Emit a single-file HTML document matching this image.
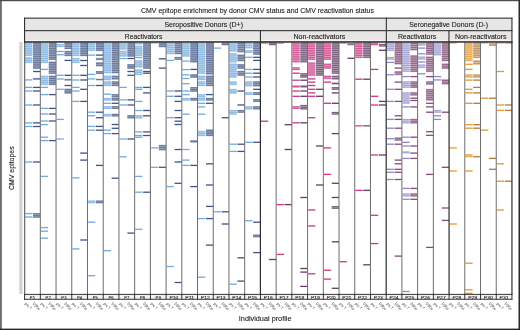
<!DOCTYPE html>
<html><head><meta charset="utf-8"><style>
html,body{margin:0;padding:0;background:#fff;}
body{width:520px;height:330px;overflow:hidden;font-family:"Liberation Sans",sans-serif;}
svg{display:block;font-family:"Liberation Sans",sans-serif;will-change:transform;}
</style></head><body>
<svg width="520" height="330" viewBox="0 0 520 330">
<rect width="520" height="330" fill="#fff"/>
<g fill="#b2d1ee"><rect x="25.15" y="42.3" width="7.25" height="13.9"/><rect x="25.15" y="57.1" width="7.25" height="6.1"/></g><g fill="#86b4df"><rect x="25.15" y="42.79" width="7.25" height="0.75"/><rect x="25.15" y="44.53" width="7.25" height="0.75"/><rect x="25.15" y="46.27" width="7.25" height="0.75"/><rect x="25.15" y="48.01" width="7.25" height="0.75"/><rect x="25.15" y="49.74" width="7.25" height="0.75"/><rect x="25.15" y="51.48" width="7.25" height="0.75"/><rect x="25.15" y="53.22" width="7.25" height="0.75"/><rect x="25.15" y="54.96" width="7.25" height="0.75"/><rect x="25.15" y="57.74" width="7.25" height="0.75"/><rect x="25.15" y="59.77" width="7.25" height="0.75"/><rect x="25.15" y="61.81" width="7.25" height="0.75"/></g><g fill="#74a9db"><rect x="25.15" y="79.25" width="7.25" height="1.3"/><rect x="25.15" y="86.75" width="7.25" height="1.3"/><rect x="25.15" y="90.35" width="7.25" height="1.3"/><rect x="25.15" y="104.35" width="7.25" height="1.3"/><rect x="25.15" y="122.25" width="7.25" height="1.3"/><rect x="25.15" y="125.85" width="7.25" height="1.3"/><rect x="25.15" y="161.35" width="7.25" height="1.3"/><rect x="25.15" y="212.95" width="7.25" height="1.3"/><rect x="25.15" y="216.35" width="7.25" height="1.3"/></g>
<g fill="#98a4bf"><rect x="33.05" y="42.3" width="7.25" height="26.6"/><rect x="33.05" y="213" width="7.25" height="4.8"/></g><g fill="#5c6e97"><rect x="33.05" y="42.88" width="7.25" height="0.75"/><rect x="33.05" y="44.77" width="7.25" height="0.75"/><rect x="33.05" y="46.67" width="7.25" height="0.75"/><rect x="33.05" y="48.58" width="7.25" height="0.75"/><rect x="33.05" y="50.48" width="7.25" height="0.75"/><rect x="33.05" y="52.38" width="7.25" height="0.75"/><rect x="33.05" y="54.27" width="7.25" height="0.75"/><rect x="33.05" y="56.17" width="7.25" height="0.75"/><rect x="33.05" y="58.08" width="7.25" height="0.75"/><rect x="33.05" y="59.98" width="7.25" height="0.75"/><rect x="33.05" y="61.88" width="7.25" height="0.75"/><rect x="33.05" y="63.78" width="7.25" height="0.75"/><rect x="33.05" y="65.68" width="7.25" height="0.75"/><rect x="33.05" y="67.58" width="7.25" height="0.75"/><rect x="33.05" y="213.43" width="7.25" height="0.75"/><rect x="33.05" y="215.02" width="7.25" height="0.75"/><rect x="33.05" y="216.62" width="7.25" height="0.75"/></g><g fill="#3f5586"><rect x="33.05" y="70.85" width="7.25" height="1.3"/><rect x="33.05" y="78.25" width="7.25" height="1.3"/><rect x="33.05" y="86.75" width="7.25" height="1.3"/><rect x="33.05" y="90.35" width="7.25" height="1.3"/><rect x="33.05" y="104.35" width="7.25" height="1.3"/><rect x="33.05" y="122.25" width="7.25" height="1.3"/><rect x="33.05" y="125.85" width="7.25" height="1.3"/><rect x="33.05" y="161.35" width="7.25" height="1.3"/></g>
<g fill="#b2d1ee"><rect x="40.87" y="42.3" width="7.25" height="20.9"/><rect x="40.87" y="75.5" width="7.25" height="9.7"/></g><g fill="#86b4df"><rect x="40.87" y="42.88" width="7.25" height="0.75"/><rect x="40.87" y="44.77" width="7.25" height="0.75"/><rect x="40.87" y="46.67" width="7.25" height="0.75"/><rect x="40.87" y="48.58" width="7.25" height="0.75"/><rect x="40.87" y="50.48" width="7.25" height="0.75"/><rect x="40.87" y="52.38" width="7.25" height="0.75"/><rect x="40.87" y="54.27" width="7.25" height="0.75"/><rect x="40.87" y="56.17" width="7.25" height="0.75"/><rect x="40.87" y="58.08" width="7.25" height="0.75"/><rect x="40.87" y="59.98" width="7.25" height="0.75"/><rect x="40.87" y="61.88" width="7.25" height="0.75"/><rect x="40.87" y="76.09" width="7.25" height="0.75"/><rect x="40.87" y="78.03" width="7.25" height="0.75"/><rect x="40.87" y="79.97" width="7.25" height="0.75"/><rect x="40.87" y="81.92" width="7.25" height="0.75"/><rect x="40.87" y="83.86" width="7.25" height="0.75"/></g><g fill="#74a9db"><rect x="40.87" y="68.75" width="7.25" height="1.3"/><rect x="40.87" y="86.75" width="7.25" height="1.3"/><rect x="40.87" y="93.95" width="7.25" height="1.3"/><rect x="40.87" y="107.75" width="7.25" height="1.3"/><rect x="40.87" y="113.35" width="7.25" height="1.3"/><rect x="40.87" y="120.35" width="7.25" height="1.3"/><rect x="40.87" y="123.95" width="7.25" height="1.3"/><rect x="40.87" y="136.55" width="7.25" height="1.3"/><rect x="40.87" y="139.95" width="7.25" height="1.3"/><rect x="40.87" y="175.75" width="7.25" height="1.3"/><rect x="40.87" y="226.95" width="7.25" height="1.3"/><rect x="40.87" y="230.55" width="7.25" height="1.3"/><rect x="40.87" y="237.55" width="7.25" height="1.3"/></g>
<g fill="#98a4bf"><rect x="48.77" y="42.3" width="7.25" height="17.7"/><rect x="48.77" y="61.5" width="7.25" height="12.5"/><rect x="48.77" y="75.5" width="7.25" height="9.7"/></g><g fill="#5c6e97"><rect x="48.77" y="42.81" width="7.25" height="0.75"/><rect x="48.77" y="44.58" width="7.25" height="0.75"/><rect x="48.77" y="46.35" width="7.25" height="0.75"/><rect x="48.77" y="48.12" width="7.25" height="0.75"/><rect x="48.77" y="49.89" width="7.25" height="0.75"/><rect x="48.77" y="51.66" width="7.25" height="0.75"/><rect x="48.77" y="53.43" width="7.25" height="0.75"/><rect x="48.77" y="55.2" width="7.25" height="0.75"/><rect x="48.77" y="56.97" width="7.25" height="0.75"/><rect x="48.77" y="58.74" width="7.25" height="0.75"/><rect x="48.77" y="62.02" width="7.25" height="0.75"/><rect x="48.77" y="63.8" width="7.25" height="0.75"/><rect x="48.77" y="65.59" width="7.25" height="0.75"/><rect x="48.77" y="67.38" width="7.25" height="0.75"/><rect x="48.77" y="69.16" width="7.25" height="0.75"/><rect x="48.77" y="70.95" width="7.25" height="0.75"/><rect x="48.77" y="72.73" width="7.25" height="0.75"/><rect x="48.77" y="76.09" width="7.25" height="0.75"/><rect x="48.77" y="78.03" width="7.25" height="0.75"/><rect x="48.77" y="79.97" width="7.25" height="0.75"/><rect x="48.77" y="81.92" width="7.25" height="0.75"/><rect x="48.77" y="83.86" width="7.25" height="0.75"/></g><g fill="#3f5586"><rect x="48.77" y="93.95" width="7.25" height="1.3"/><rect x="48.77" y="107.75" width="7.25" height="1.3"/><rect x="48.77" y="113.35" width="7.25" height="1.3"/><rect x="48.77" y="120.35" width="7.25" height="1.3"/><rect x="48.77" y="139.95" width="7.25" height="1.3"/></g>
<g fill="#b2d1ee"><rect x="56.59" y="43.8" width="7.25" height="3.4"/></g><g fill="#86b4df"><rect x="56.59" y="44.27" width="7.25" height="0.75"/><rect x="56.59" y="45.98" width="7.25" height="0.75"/></g><g fill="#74a9db"><rect x="56.59" y="50.85" width="7.25" height="1.3"/><rect x="56.59" y="54.05" width="7.25" height="1.3"/><rect x="56.59" y="74.65" width="7.25" height="1.3"/><rect x="56.59" y="78.35" width="7.25" height="1.3"/><rect x="56.59" y="88.65" width="7.25" height="1.3"/><rect x="56.59" y="118.75" width="7.25" height="1.3"/><rect x="56.59" y="138.35" width="7.25" height="1.3"/></g>
<g fill="#98a4bf"><rect x="64.49" y="42.3" width="7.25" height="6.9"/><rect x="64.49" y="50.8" width="7.25" height="5.4"/><rect x="64.49" y="78.8" width="7.25" height="1.9"/><rect x="64.49" y="88.6" width="7.25" height="5.1"/></g><g fill="#5c6e97"><rect x="64.49" y="42.79" width="7.25" height="0.75"/><rect x="64.49" y="44.51" width="7.25" height="0.75"/><rect x="64.49" y="46.24" width="7.25" height="0.75"/><rect x="64.49" y="47.96" width="7.25" height="0.75"/><rect x="64.49" y="51.32" width="7.25" height="0.75"/><rect x="64.49" y="53.12" width="7.25" height="0.75"/><rect x="64.49" y="54.93" width="7.25" height="0.75"/><rect x="64.49" y="79.38" width="7.25" height="0.75"/><rect x="64.49" y="89.07" width="7.25" height="0.75"/><rect x="64.49" y="90.78" width="7.25" height="0.75"/><rect x="64.49" y="92.47" width="7.25" height="0.75"/></g><g fill="#3f5586"><rect x="64.49" y="59.75" width="7.25" height="1.3"/><rect x="64.49" y="74.65" width="7.25" height="1.3"/><rect x="64.49" y="84.85" width="7.25" height="1.3"/></g>
<g fill="#b2d1ee"><rect x="72.31" y="42.3" width="7.25" height="13.9"/><rect x="72.31" y="57.8" width="7.25" height="5.4"/></g><g fill="#86b4df"><rect x="72.31" y="42.79" width="7.25" height="0.75"/><rect x="72.31" y="44.53" width="7.25" height="0.75"/><rect x="72.31" y="46.27" width="7.25" height="0.75"/><rect x="72.31" y="48.01" width="7.25" height="0.75"/><rect x="72.31" y="49.74" width="7.25" height="0.75"/><rect x="72.31" y="51.48" width="7.25" height="0.75"/><rect x="72.31" y="53.22" width="7.25" height="0.75"/><rect x="72.31" y="54.96" width="7.25" height="0.75"/><rect x="72.31" y="58.32" width="7.25" height="0.75"/><rect x="72.31" y="60.12" width="7.25" height="0.75"/><rect x="72.31" y="61.93" width="7.25" height="0.75"/></g><g fill="#74a9db"><rect x="72.31" y="74.65" width="7.25" height="1.3"/><rect x="72.31" y="79.35" width="7.25" height="1.3"/><rect x="72.31" y="86.75" width="7.25" height="1.3"/><rect x="72.31" y="90.35" width="7.25" height="1.3"/><rect x="72.31" y="100.75" width="7.25" height="1.3"/><rect x="72.31" y="177.25" width="7.25" height="1.3"/><rect x="72.31" y="248.25" width="7.25" height="1.3"/></g>
<g fill="#98a4bf"><rect x="80.21" y="42.3" width="7.25" height="13.9"/></g><g fill="#5c6e97"><rect x="80.21" y="42.79" width="7.25" height="0.75"/><rect x="80.21" y="44.53" width="7.25" height="0.75"/><rect x="80.21" y="46.27" width="7.25" height="0.75"/><rect x="80.21" y="48.01" width="7.25" height="0.75"/><rect x="80.21" y="49.74" width="7.25" height="0.75"/><rect x="80.21" y="51.48" width="7.25" height="0.75"/><rect x="80.21" y="53.22" width="7.25" height="0.75"/><rect x="80.21" y="54.96" width="7.25" height="0.75"/></g><g fill="#3f5586"><rect x="80.21" y="59.85" width="7.25" height="1.3"/><rect x="80.21" y="64.85" width="7.25" height="1.3"/><rect x="80.21" y="74.65" width="7.25" height="1.3"/><rect x="80.21" y="79.35" width="7.25" height="1.3"/><rect x="80.21" y="88.65" width="7.25" height="1.3"/><rect x="80.21" y="100.75" width="7.25" height="1.3"/><rect x="80.21" y="152.45" width="7.25" height="1.3"/><rect x="80.21" y="159.45" width="7.25" height="1.3"/><rect x="80.21" y="239.35" width="7.25" height="1.3"/></g>
<g fill="#b2d1ee"><rect x="88.03" y="42.3" width="7.25" height="8.8"/><rect x="88.03" y="200.4" width="7.25" height="3"/></g><g fill="#86b4df"><rect x="88.03" y="42.8" width="7.25" height="0.75"/><rect x="88.03" y="44.56" width="7.25" height="0.75"/><rect x="88.03" y="46.33" width="7.25" height="0.75"/><rect x="88.03" y="48.09" width="7.25" height="0.75"/><rect x="88.03" y="49.84" width="7.25" height="0.75"/><rect x="88.03" y="200.78" width="7.25" height="0.75"/><rect x="88.03" y="202.27" width="7.25" height="0.75"/></g><g fill="#74a9db"><rect x="88.03" y="54.45" width="7.25" height="1.3"/><rect x="88.03" y="73.75" width="7.25" height="1.3"/><rect x="88.03" y="78.25" width="7.25" height="1.3"/><rect x="88.03" y="84.85" width="7.25" height="1.3"/><rect x="88.03" y="111.55" width="7.25" height="1.3"/><rect x="88.03" y="115.15" width="7.25" height="1.3"/><rect x="88.03" y="125.75" width="7.25" height="1.3"/><rect x="88.03" y="129.55" width="7.25" height="1.3"/><rect x="88.03" y="221.55" width="7.25" height="1.3"/><rect x="88.03" y="275.05" width="7.25" height="1.3"/></g>
<g fill="#98a4bf"><rect x="95.93" y="42.3" width="7.25" height="8.8"/><rect x="95.93" y="57.8" width="7.25" height="2.4"/><rect x="95.93" y="62.2" width="7.25" height="4.2"/><rect x="95.93" y="71.1" width="7.25" height="2.9"/><rect x="95.93" y="78.7" width="7.25" height="1.7"/><rect x="95.93" y="200.4" width="7.25" height="3"/></g><g fill="#5c6e97"><rect x="95.93" y="42.8" width="7.25" height="0.75"/><rect x="95.93" y="44.56" width="7.25" height="0.75"/><rect x="95.93" y="46.33" width="7.25" height="0.75"/><rect x="95.93" y="48.09" width="7.25" height="0.75"/><rect x="95.93" y="49.84" width="7.25" height="0.75"/><rect x="95.93" y="58.62" width="7.25" height="0.75"/><rect x="95.93" y="62.88" width="7.25" height="0.75"/><rect x="95.93" y="64.98" width="7.25" height="0.75"/><rect x="95.93" y="71.45" width="7.25" height="0.75"/><rect x="95.93" y="72.9" width="7.25" height="0.75"/><rect x="95.93" y="79.18" width="7.25" height="0.75"/><rect x="95.93" y="200.78" width="7.25" height="0.75"/><rect x="95.93" y="202.27" width="7.25" height="0.75"/></g><g fill="#3f5586"><rect x="95.93" y="54.45" width="7.25" height="1.3"/><rect x="95.93" y="84.85" width="7.25" height="1.3"/><rect x="95.93" y="111.55" width="7.25" height="1.3"/><rect x="95.93" y="117.05" width="7.25" height="1.3"/><rect x="95.93" y="125.75" width="7.25" height="1.3"/><rect x="95.93" y="129.55" width="7.25" height="1.3"/><rect x="95.93" y="164.75" width="7.25" height="1.3"/></g>
<g fill="#b2d1ee"><rect x="103.76" y="42.3" width="7.25" height="31.1"/><rect x="103.76" y="75.5" width="7.25" height="4.9"/><rect x="103.76" y="81.2" width="7.25" height="5"/><rect x="103.76" y="97.8" width="7.25" height="2.9"/><rect x="103.76" y="106.1" width="7.25" height="2.9"/><rect x="103.76" y="113.7" width="7.25" height="2.9"/></g><g fill="#86b4df"><rect x="103.76" y="42.84" width="7.25" height="0.75"/><rect x="103.76" y="44.67" width="7.25" height="0.75"/><rect x="103.76" y="46.5" width="7.25" height="0.75"/><rect x="103.76" y="48.33" width="7.25" height="0.75"/><rect x="103.76" y="50.16" width="7.25" height="0.75"/><rect x="103.76" y="51.99" width="7.25" height="0.75"/><rect x="103.76" y="53.82" width="7.25" height="0.75"/><rect x="103.76" y="55.65" width="7.25" height="0.75"/><rect x="103.76" y="57.48" width="7.25" height="0.75"/><rect x="103.76" y="59.3" width="7.25" height="0.75"/><rect x="103.76" y="61.13" width="7.25" height="0.75"/><rect x="103.76" y="62.96" width="7.25" height="0.75"/><rect x="103.76" y="64.79" width="7.25" height="0.75"/><rect x="103.76" y="66.62" width="7.25" height="0.75"/><rect x="103.76" y="68.45" width="7.25" height="0.75"/><rect x="103.76" y="70.28" width="7.25" height="0.75"/><rect x="103.76" y="72.11" width="7.25" height="0.75"/><rect x="103.76" y="75.94" width="7.25" height="0.75"/><rect x="103.76" y="77.58" width="7.25" height="0.75"/><rect x="103.76" y="79.21" width="7.25" height="0.75"/><rect x="103.76" y="81.66" width="7.25" height="0.75"/><rect x="103.76" y="83.33" width="7.25" height="0.75"/><rect x="103.76" y="84.99" width="7.25" height="0.75"/><rect x="103.76" y="98.15" width="7.25" height="0.75"/><rect x="103.76" y="99.6" width="7.25" height="0.75"/><rect x="103.76" y="106.45" width="7.25" height="0.75"/><rect x="103.76" y="107.9" width="7.25" height="0.75"/><rect x="103.76" y="114.05" width="7.25" height="0.75"/><rect x="103.76" y="115.5" width="7.25" height="0.75"/></g><g fill="#74a9db"><rect x="103.76" y="93.55" width="7.25" height="1.3"/><rect x="103.76" y="102.65" width="7.25" height="1.3"/><rect x="103.76" y="129.55" width="7.25" height="1.3"/><rect x="103.76" y="132.95" width="7.25" height="1.3"/><rect x="103.76" y="250.05" width="7.25" height="1.3"/></g>
<g fill="#98a4bf"><rect x="111.66" y="42.3" width="7.25" height="31.1"/><rect x="111.66" y="75.5" width="7.25" height="4.2"/><rect x="111.66" y="81.2" width="7.25" height="5"/><rect x="111.66" y="94" width="7.25" height="3.6"/><rect x="111.66" y="97.8" width="7.25" height="2.9"/><rect x="111.66" y="106.1" width="7.25" height="2.9"/><rect x="111.66" y="113.7" width="7.25" height="2.9"/></g><g fill="#5c6e97"><rect x="111.66" y="42.84" width="7.25" height="0.75"/><rect x="111.66" y="44.67" width="7.25" height="0.75"/><rect x="111.66" y="46.5" width="7.25" height="0.75"/><rect x="111.66" y="48.33" width="7.25" height="0.75"/><rect x="111.66" y="50.16" width="7.25" height="0.75"/><rect x="111.66" y="51.99" width="7.25" height="0.75"/><rect x="111.66" y="53.82" width="7.25" height="0.75"/><rect x="111.66" y="55.65" width="7.25" height="0.75"/><rect x="111.66" y="57.48" width="7.25" height="0.75"/><rect x="111.66" y="59.3" width="7.25" height="0.75"/><rect x="111.66" y="61.13" width="7.25" height="0.75"/><rect x="111.66" y="62.96" width="7.25" height="0.75"/><rect x="111.66" y="64.79" width="7.25" height="0.75"/><rect x="111.66" y="66.62" width="7.25" height="0.75"/><rect x="111.66" y="68.45" width="7.25" height="0.75"/><rect x="111.66" y="70.28" width="7.25" height="0.75"/><rect x="111.66" y="72.11" width="7.25" height="0.75"/><rect x="111.66" y="76.17" width="7.25" height="0.75"/><rect x="111.66" y="78.28" width="7.25" height="0.75"/><rect x="111.66" y="81.66" width="7.25" height="0.75"/><rect x="111.66" y="83.33" width="7.25" height="0.75"/><rect x="111.66" y="84.99" width="7.25" height="0.75"/><rect x="111.66" y="94.53" width="7.25" height="0.75"/><rect x="111.66" y="96.33" width="7.25" height="0.75"/><rect x="111.66" y="98.15" width="7.25" height="0.75"/><rect x="111.66" y="99.6" width="7.25" height="0.75"/><rect x="111.66" y="106.45" width="7.25" height="0.75"/><rect x="111.66" y="107.9" width="7.25" height="0.75"/><rect x="111.66" y="114.05" width="7.25" height="0.75"/><rect x="111.66" y="115.5" width="7.25" height="0.75"/></g><g fill="#3f5586"><rect x="111.66" y="102.65" width="7.25" height="1.3"/><rect x="111.66" y="123.85" width="7.25" height="1.3"/><rect x="111.66" y="127.65" width="7.25" height="1.3"/><rect x="111.66" y="132.95" width="7.25" height="1.3"/><rect x="111.66" y="177.55" width="7.25" height="1.3"/></g>
<g fill="#b2d1ee"><rect x="119.48" y="42.3" width="7.25" height="7.5"/><rect x="119.48" y="50.7" width="7.25" height="6.1"/></g><g fill="#86b4df"><rect x="119.48" y="42.86" width="7.25" height="0.75"/><rect x="119.48" y="44.74" width="7.25" height="0.75"/><rect x="119.48" y="46.61" width="7.25" height="0.75"/><rect x="119.48" y="48.49" width="7.25" height="0.75"/><rect x="119.48" y="51.34" width="7.25" height="0.75"/><rect x="119.48" y="53.38" width="7.25" height="0.75"/><rect x="119.48" y="55.41" width="7.25" height="0.75"/></g><g fill="#74a9db"><rect x="119.48" y="57.85" width="7.25" height="1.3"/><rect x="119.48" y="86.75" width="7.25" height="1.3"/><rect x="119.48" y="99.25" width="7.25" height="1.3"/><rect x="119.48" y="104.35" width="7.25" height="1.3"/><rect x="119.48" y="138.35" width="7.25" height="1.3"/><rect x="119.48" y="156.15" width="7.25" height="1.3"/></g>
<g fill="#98a4bf"><rect x="127.38" y="42.3" width="7.25" height="14.5"/><rect x="127.38" y="64.1" width="7.25" height="4.8"/><rect x="127.38" y="115" width="7.25" height="3.6"/></g><g fill="#5c6e97"><rect x="127.38" y="42.83" width="7.25" height="0.75"/><rect x="127.38" y="44.64" width="7.25" height="0.75"/><rect x="127.38" y="46.46" width="7.25" height="0.75"/><rect x="127.38" y="48.27" width="7.25" height="0.75"/><rect x="127.38" y="50.08" width="7.25" height="0.75"/><rect x="127.38" y="51.89" width="7.25" height="0.75"/><rect x="127.38" y="53.71" width="7.25" height="0.75"/><rect x="127.38" y="55.52" width="7.25" height="0.75"/><rect x="127.38" y="64.52" width="7.25" height="0.75"/><rect x="127.38" y="66.12" width="7.25" height="0.75"/><rect x="127.38" y="67.73" width="7.25" height="0.75"/><rect x="127.38" y="115.53" width="7.25" height="0.75"/><rect x="127.38" y="117.33" width="7.25" height="0.75"/></g><g fill="#3f5586"><rect x="127.38" y="57.85" width="7.25" height="1.3"/><rect x="127.38" y="70.85" width="7.25" height="1.3"/><rect x="127.38" y="74.65" width="7.25" height="1.3"/><rect x="127.38" y="99.25" width="7.25" height="1.3"/><rect x="127.38" y="104.35" width="7.25" height="1.3"/><rect x="127.38" y="138.35" width="7.25" height="1.3"/><rect x="127.38" y="232.45" width="7.25" height="1.3"/></g>
<g fill="#b2d1ee"><rect x="135.2" y="42.3" width="7.25" height="2.4"/><rect x="135.2" y="45.6" width="7.25" height="10.6"/><rect x="135.2" y="60.2" width="7.25" height="7.4"/><rect x="135.2" y="69.2" width="7.25" height="6"/><rect x="135.2" y="115" width="7.25" height="3.6"/></g><g fill="#86b4df"><rect x="135.2" y="43.12" width="7.25" height="0.75"/><rect x="135.2" y="46.11" width="7.25" height="0.75"/><rect x="135.2" y="47.88" width="7.25" height="0.75"/><rect x="135.2" y="49.64" width="7.25" height="0.75"/><rect x="135.2" y="51.41" width="7.25" height="0.75"/><rect x="135.2" y="53.17" width="7.25" height="0.75"/><rect x="135.2" y="54.94" width="7.25" height="0.75"/><rect x="135.2" y="60.75" width="7.25" height="0.75"/><rect x="135.2" y="62.6" width="7.25" height="0.75"/><rect x="135.2" y="64.45" width="7.25" height="0.75"/><rect x="135.2" y="66.3" width="7.25" height="0.75"/><rect x="135.2" y="69.83" width="7.25" height="0.75"/><rect x="135.2" y="71.83" width="7.25" height="0.75"/><rect x="135.2" y="73.83" width="7.25" height="0.75"/><rect x="135.2" y="115.53" width="7.25" height="0.75"/><rect x="135.2" y="117.33" width="7.25" height="0.75"/></g><g fill="#74a9db"><rect x="135.2" y="56.85" width="7.25" height="1.3"/><rect x="135.2" y="86.75" width="7.25" height="1.3"/><rect x="135.2" y="88.65" width="7.25" height="1.3"/><rect x="135.2" y="100.75" width="7.25" height="1.3"/><rect x="135.2" y="109.85" width="7.25" height="1.3"/><rect x="135.2" y="131.25" width="7.25" height="1.3"/><rect x="135.2" y="134.85" width="7.25" height="1.3"/><rect x="135.2" y="136.55" width="7.25" height="1.3"/><rect x="135.2" y="175.75" width="7.25" height="1.3"/><rect x="135.2" y="191.55" width="7.25" height="1.3"/><rect x="135.2" y="228.65" width="7.25" height="1.3"/></g>
<g fill="#98a4bf"><rect x="143.1" y="42.3" width="7.25" height="26.6"/></g><g fill="#5c6e97"><rect x="143.1" y="42.88" width="7.25" height="0.75"/><rect x="143.1" y="44.77" width="7.25" height="0.75"/><rect x="143.1" y="46.67" width="7.25" height="0.75"/><rect x="143.1" y="48.58" width="7.25" height="0.75"/><rect x="143.1" y="50.48" width="7.25" height="0.75"/><rect x="143.1" y="52.38" width="7.25" height="0.75"/><rect x="143.1" y="54.27" width="7.25" height="0.75"/><rect x="143.1" y="56.17" width="7.25" height="0.75"/><rect x="143.1" y="58.08" width="7.25" height="0.75"/><rect x="143.1" y="59.98" width="7.25" height="0.75"/><rect x="143.1" y="61.88" width="7.25" height="0.75"/><rect x="143.1" y="63.78" width="7.25" height="0.75"/><rect x="143.1" y="65.68" width="7.25" height="0.75"/><rect x="143.1" y="67.58" width="7.25" height="0.75"/></g><g fill="#3f5586"><rect x="143.1" y="70.85" width="7.25" height="1.3"/><rect x="143.1" y="72.55" width="7.25" height="1.3"/><rect x="143.1" y="86.75" width="7.25" height="1.3"/><rect x="143.1" y="92.25" width="7.25" height="1.3"/><rect x="143.1" y="109.85" width="7.25" height="1.3"/><rect x="143.1" y="115.15" width="7.25" height="1.3"/><rect x="143.1" y="131.25" width="7.25" height="1.3"/><rect x="143.1" y="134.85" width="7.25" height="1.3"/><rect x="143.1" y="191.55" width="7.25" height="1.3"/></g>
<g fill="#74a9db"><rect x="150.92" y="42.5" width="7.25" height="1"/><rect x="150.92" y="147.25" width="7.25" height="1.3"/><rect x="150.92" y="166.65" width="7.25" height="1.3"/></g>
<g fill="#98a4bf"><rect x="158.82" y="42.3" width="7.25" height="5"/><rect x="158.82" y="144.8" width="7.25" height="5.6"/></g><g fill="#5c6e97"><rect x="158.82" y="42.76" width="7.25" height="0.75"/><rect x="158.82" y="44.42" width="7.25" height="0.75"/><rect x="158.82" y="46.09" width="7.25" height="0.75"/><rect x="158.82" y="145.36" width="7.25" height="0.75"/><rect x="158.82" y="147.22" width="7.25" height="0.75"/><rect x="158.82" y="149.09" width="7.25" height="0.75"/></g><g fill="#3f5586"><rect x="158.82" y="58.15" width="7.25" height="1.3"/><rect x="158.82" y="67.45" width="7.25" height="1.3"/><rect x="158.82" y="166.65" width="7.25" height="1.3"/></g>
<g fill="#b2d1ee"><rect x="166.64" y="42.3" width="7.25" height="12"/></g><g fill="#86b4df"><rect x="166.64" y="42.92" width="7.25" height="0.75"/><rect x="166.64" y="44.92" width="7.25" height="0.75"/><rect x="166.64" y="46.92" width="7.25" height="0.75"/><rect x="166.64" y="48.93" width="7.25" height="0.75"/><rect x="166.64" y="50.93" width="7.25" height="0.75"/><rect x="166.64" y="52.93" width="7.25" height="0.75"/></g><g fill="#74a9db"><rect x="166.64" y="59.75" width="7.25" height="1.3"/><rect x="166.64" y="90.35" width="7.25" height="1.3"/><rect x="166.64" y="95.65" width="7.25" height="1.3"/><rect x="166.64" y="117.05" width="7.25" height="1.3"/><rect x="166.64" y="185.95" width="7.25" height="1.3"/><rect x="166.64" y="265.85" width="7.25" height="1.3"/></g>
<g fill="#98a4bf"><rect x="174.54" y="42.3" width="7.25" height="12"/><rect x="174.54" y="56.8" width="7.25" height="3.2"/></g><g fill="#5c6e97"><rect x="174.54" y="42.92" width="7.25" height="0.75"/><rect x="174.54" y="44.92" width="7.25" height="0.75"/><rect x="174.54" y="46.92" width="7.25" height="0.75"/><rect x="174.54" y="48.93" width="7.25" height="0.75"/><rect x="174.54" y="50.93" width="7.25" height="0.75"/><rect x="174.54" y="52.93" width="7.25" height="0.75"/><rect x="174.54" y="57.22" width="7.25" height="0.75"/><rect x="174.54" y="58.83" width="7.25" height="0.75"/></g><g fill="#3f5586"><rect x="174.54" y="90.35" width="7.25" height="1.3"/><rect x="174.54" y="95.65" width="7.25" height="1.3"/><rect x="174.54" y="100.75" width="7.25" height="1.3"/><rect x="174.54" y="109.85" width="7.25" height="1.3"/><rect x="174.54" y="117.05" width="7.25" height="1.3"/><rect x="174.54" y="120.55" width="7.25" height="1.3"/><rect x="174.54" y="123.85" width="7.25" height="1.3"/><rect x="174.54" y="148.85" width="7.25" height="1.3"/><rect x="174.54" y="161.35" width="7.25" height="1.3"/><rect x="174.54" y="182.65" width="7.25" height="1.3"/><rect x="174.54" y="281.85" width="7.25" height="1.3"/></g>
<g fill="#b2d1ee"><rect x="182.36" y="42.3" width="7.25" height="14.5"/><rect x="182.36" y="60.2" width="7.25" height="1.8"/><rect x="182.36" y="97.8" width="7.25" height="2.9"/></g><g fill="#86b4df"><rect x="182.36" y="42.83" width="7.25" height="0.75"/><rect x="182.36" y="44.64" width="7.25" height="0.75"/><rect x="182.36" y="46.46" width="7.25" height="0.75"/><rect x="182.36" y="48.27" width="7.25" height="0.75"/><rect x="182.36" y="50.08" width="7.25" height="0.75"/><rect x="182.36" y="51.89" width="7.25" height="0.75"/><rect x="182.36" y="53.71" width="7.25" height="0.75"/><rect x="182.36" y="55.52" width="7.25" height="0.75"/><rect x="182.36" y="60.72" width="7.25" height="0.75"/><rect x="182.36" y="98.15" width="7.25" height="0.75"/><rect x="182.36" y="99.6" width="7.25" height="0.75"/></g><g fill="#74a9db"><rect x="182.36" y="68.95" width="7.25" height="1.3"/><rect x="182.36" y="74.15" width="7.25" height="1.3"/><rect x="182.36" y="77.85" width="7.25" height="1.3"/><rect x="182.36" y="83.05" width="7.25" height="1.3"/><rect x="182.36" y="90.35" width="7.25" height="1.3"/><rect x="182.36" y="93.95" width="7.25" height="1.3"/><rect x="182.36" y="113.55" width="7.25" height="1.3"/><rect x="182.36" y="148.85" width="7.25" height="1.3"/><rect x="182.36" y="159.45" width="7.25" height="1.3"/><rect x="182.36" y="164.75" width="7.25" height="1.3"/></g>
<g fill="#98a4bf"><rect x="190.26" y="42.3" width="7.25" height="20.3"/><rect x="190.26" y="74.2" width="7.25" height="3.6"/><rect x="190.26" y="87" width="7.25" height="4.8"/><rect x="190.26" y="97.8" width="7.25" height="2.9"/><rect x="190.26" y="140" width="7.25" height="2.7"/></g><g fill="#5c6e97"><rect x="190.26" y="42.85" width="7.25" height="0.75"/><rect x="190.26" y="44.69" width="7.25" height="0.75"/><rect x="190.26" y="46.54" width="7.25" height="0.75"/><rect x="190.26" y="48.38" width="7.25" height="0.75"/><rect x="190.26" y="50.23" width="7.25" height="0.75"/><rect x="190.26" y="52.08" width="7.25" height="0.75"/><rect x="190.26" y="53.92" width="7.25" height="0.75"/><rect x="190.26" y="55.77" width="7.25" height="0.75"/><rect x="190.26" y="57.61" width="7.25" height="0.75"/><rect x="190.26" y="59.46" width="7.25" height="0.75"/><rect x="190.26" y="61.3" width="7.25" height="0.75"/><rect x="190.26" y="74.72" width="7.25" height="0.75"/><rect x="190.26" y="76.53" width="7.25" height="0.75"/><rect x="190.26" y="87.42" width="7.25" height="0.75"/><rect x="190.26" y="89.03" width="7.25" height="0.75"/><rect x="190.26" y="90.62" width="7.25" height="0.75"/><rect x="190.26" y="98.15" width="7.25" height="0.75"/><rect x="190.26" y="99.6" width="7.25" height="0.75"/><rect x="190.26" y="140.97" width="7.25" height="0.75"/></g><g fill="#3f5586"><rect x="190.26" y="68.75" width="7.25" height="1.3"/><rect x="190.26" y="164.75" width="7.25" height="1.3"/><rect x="190.26" y="185.95" width="7.25" height="1.3"/></g>
<g fill="#b2d1ee"><rect x="198.08" y="42.3" width="7.25" height="31.7"/><rect x="198.08" y="75.5" width="7.25" height="4.9"/><rect x="198.08" y="81.2" width="7.25" height="5"/><rect x="198.08" y="94" width="7.25" height="3.6"/><rect x="198.08" y="97.8" width="7.25" height="2.9"/><rect x="198.08" y="130.8" width="7.25" height="5.4"/></g><g fill="#86b4df"><rect x="198.08" y="42.86" width="7.25" height="0.75"/><rect x="198.08" y="44.72" width="7.25" height="0.75"/><rect x="198.08" y="46.59" width="7.25" height="0.75"/><rect x="198.08" y="48.45" width="7.25" height="0.75"/><rect x="198.08" y="50.32" width="7.25" height="0.75"/><rect x="198.08" y="52.18" width="7.25" height="0.75"/><rect x="198.08" y="54.05" width="7.25" height="0.75"/><rect x="198.08" y="55.91" width="7.25" height="0.75"/><rect x="198.08" y="57.77" width="7.25" height="0.75"/><rect x="198.08" y="59.64" width="7.25" height="0.75"/><rect x="198.08" y="61.5" width="7.25" height="0.75"/><rect x="198.08" y="63.37" width="7.25" height="0.75"/><rect x="198.08" y="65.23" width="7.25" height="0.75"/><rect x="198.08" y="67.1" width="7.25" height="0.75"/><rect x="198.08" y="68.96" width="7.25" height="0.75"/><rect x="198.08" y="70.83" width="7.25" height="0.75"/><rect x="198.08" y="72.69" width="7.25" height="0.75"/><rect x="198.08" y="75.94" width="7.25" height="0.75"/><rect x="198.08" y="77.58" width="7.25" height="0.75"/><rect x="198.08" y="79.21" width="7.25" height="0.75"/><rect x="198.08" y="81.66" width="7.25" height="0.75"/><rect x="198.08" y="83.33" width="7.25" height="0.75"/><rect x="198.08" y="84.99" width="7.25" height="0.75"/><rect x="198.08" y="94.53" width="7.25" height="0.75"/><rect x="198.08" y="96.33" width="7.25" height="0.75"/><rect x="198.08" y="98.15" width="7.25" height="0.75"/><rect x="198.08" y="99.6" width="7.25" height="0.75"/><rect x="198.08" y="131.33" width="7.25" height="0.75"/><rect x="198.08" y="133.12" width="7.25" height="0.75"/><rect x="198.08" y="134.92" width="7.25" height="0.75"/></g><g fill="#74a9db"><rect x="198.08" y="102.65" width="7.25" height="1.3"/><rect x="198.08" y="106.25" width="7.25" height="1.3"/><rect x="198.08" y="113.55" width="7.25" height="1.3"/><rect x="198.08" y="217.95" width="7.25" height="1.3"/><rect x="198.08" y="276.55" width="7.25" height="1.3"/></g>
<g fill="#98a4bf"><rect x="205.98" y="42.3" width="7.25" height="32.3"/><rect x="205.98" y="75.5" width="7.25" height="10.7"/><rect x="205.98" y="97.8" width="7.25" height="2.9"/><rect x="205.98" y="129.4" width="7.25" height="6.8"/></g><g fill="#5c6e97"><rect x="205.98" y="42.88" width="7.25" height="0.75"/><rect x="205.98" y="44.77" width="7.25" height="0.75"/><rect x="205.98" y="46.67" width="7.25" height="0.75"/><rect x="205.98" y="48.58" width="7.25" height="0.75"/><rect x="205.98" y="50.48" width="7.25" height="0.75"/><rect x="205.98" y="52.38" width="7.25" height="0.75"/><rect x="205.98" y="54.27" width="7.25" height="0.75"/><rect x="205.98" y="56.17" width="7.25" height="0.75"/><rect x="205.98" y="58.08" width="7.25" height="0.75"/><rect x="205.98" y="59.98" width="7.25" height="0.75"/><rect x="205.98" y="61.88" width="7.25" height="0.75"/><rect x="205.98" y="63.78" width="7.25" height="0.75"/><rect x="205.98" y="65.68" width="7.25" height="0.75"/><rect x="205.98" y="67.58" width="7.25" height="0.75"/><rect x="205.98" y="69.48" width="7.25" height="0.75"/><rect x="205.98" y="71.38" width="7.25" height="0.75"/><rect x="205.98" y="73.28" width="7.25" height="0.75"/><rect x="205.98" y="76.02" width="7.25" height="0.75"/><rect x="205.98" y="77.8" width="7.25" height="0.75"/><rect x="205.98" y="79.58" width="7.25" height="0.75"/><rect x="205.98" y="81.37" width="7.25" height="0.75"/><rect x="205.98" y="83.15" width="7.25" height="0.75"/><rect x="205.98" y="84.93" width="7.25" height="0.75"/><rect x="205.98" y="98.15" width="7.25" height="0.75"/><rect x="205.98" y="99.6" width="7.25" height="0.75"/><rect x="205.98" y="129.88" width="7.25" height="0.75"/><rect x="205.98" y="131.57" width="7.25" height="0.75"/><rect x="205.98" y="133.28" width="7.25" height="0.75"/><rect x="205.98" y="134.97" width="7.25" height="0.75"/></g><g fill="#3f5586"><rect x="205.98" y="93.95" width="7.25" height="1.3"/><rect x="205.98" y="102.65" width="7.25" height="1.3"/><rect x="205.98" y="163.15" width="7.25" height="1.3"/><rect x="205.98" y="184.35" width="7.25" height="1.3"/><rect x="205.98" y="205.75" width="7.25" height="1.3"/><rect x="205.98" y="217.95" width="7.25" height="1.3"/><rect x="205.98" y="244.45" width="7.25" height="1.3"/></g>
<g fill="#74a9db"><rect x="213.8" y="47.45" width="7.25" height="1.3"/><rect x="213.8" y="211.15" width="7.25" height="1.3"/></g>
<g fill="#98a4bf"><rect x="221.7" y="42.3" width="7.25" height="3.1"/></g><g fill="#5c6e97"><rect x="221.7" y="42.7" width="7.25" height="0.75"/><rect x="221.7" y="44.25" width="7.25" height="0.75"/></g><g fill="#3f5586"><rect x="221.7" y="117.05" width="7.25" height="1.3"/><rect x="221.7" y="211.15" width="7.25" height="1.3"/><rect x="221.7" y="223.35" width="7.25" height="1.3"/></g>
<g fill="#b2d1ee"><rect x="229.52" y="42.3" width="7.25" height="9.4"/><rect x="229.52" y="53" width="7.25" height="9.6"/><rect x="229.52" y="63.4" width="7.25" height="14.4"/><rect x="229.52" y="81.2" width="7.25" height="4"/><rect x="229.52" y="88.8" width="7.25" height="4.9"/><rect x="229.52" y="109.9" width="7.25" height="4.8"/></g><g fill="#86b4df"><rect x="229.52" y="42.86" width="7.25" height="0.75"/><rect x="229.52" y="44.74" width="7.25" height="0.75"/><rect x="229.52" y="46.62" width="7.25" height="0.75"/><rect x="229.52" y="48.51" width="7.25" height="0.75"/><rect x="229.52" y="50.39" width="7.25" height="0.75"/><rect x="229.52" y="53.59" width="7.25" height="0.75"/><rect x="229.52" y="55.51" width="7.25" height="0.75"/><rect x="229.52" y="57.42" width="7.25" height="0.75"/><rect x="229.52" y="59.34" width="7.25" height="0.75"/><rect x="229.52" y="61.27" width="7.25" height="0.75"/><rect x="229.52" y="63.92" width="7.25" height="0.75"/><rect x="229.52" y="65.72" width="7.25" height="0.75"/><rect x="229.52" y="67.53" width="7.25" height="0.75"/><rect x="229.52" y="69.33" width="7.25" height="0.75"/><rect x="229.52" y="71.12" width="7.25" height="0.75"/><rect x="229.52" y="72.92" width="7.25" height="0.75"/><rect x="229.52" y="74.72" width="7.25" height="0.75"/><rect x="229.52" y="76.52" width="7.25" height="0.75"/><rect x="229.52" y="81.83" width="7.25" height="0.75"/><rect x="229.52" y="83.83" width="7.25" height="0.75"/><rect x="229.52" y="89.24" width="7.25" height="0.75"/><rect x="229.52" y="90.88" width="7.25" height="0.75"/><rect x="229.52" y="92.51" width="7.25" height="0.75"/><rect x="229.52" y="110.32" width="7.25" height="0.75"/><rect x="229.52" y="111.92" width="7.25" height="0.75"/><rect x="229.52" y="113.53" width="7.25" height="0.75"/></g><g fill="#74a9db"><rect x="229.52" y="143.55" width="7.25" height="1.3"/><rect x="229.52" y="150.75" width="7.25" height="1.3"/><rect x="229.52" y="283.55" width="7.25" height="1.3"/></g>
<g fill="#98a4bf"><rect x="237.42" y="42.3" width="7.25" height="10.1"/><rect x="237.42" y="54.5" width="7.25" height="6.8"/><rect x="237.42" y="64.1" width="7.25" height="4.8"/><rect x="237.42" y="70.8" width="7.25" height="5.1"/><rect x="237.42" y="109.9" width="7.25" height="2.9"/></g><g fill="#5c6e97"><rect x="237.42" y="42.93" width="7.25" height="0.75"/><rect x="237.42" y="44.95" width="7.25" height="0.75"/><rect x="237.42" y="46.98" width="7.25" height="0.75"/><rect x="237.42" y="49" width="7.25" height="0.75"/><rect x="237.42" y="51.02" width="7.25" height="0.75"/><rect x="237.42" y="54.98" width="7.25" height="0.75"/><rect x="237.42" y="56.68" width="7.25" height="0.75"/><rect x="237.42" y="58.38" width="7.25" height="0.75"/><rect x="237.42" y="60.08" width="7.25" height="0.75"/><rect x="237.42" y="64.52" width="7.25" height="0.75"/><rect x="237.42" y="66.12" width="7.25" height="0.75"/><rect x="237.42" y="67.73" width="7.25" height="0.75"/><rect x="237.42" y="71.28" width="7.25" height="0.75"/><rect x="237.42" y="72.97" width="7.25" height="0.75"/><rect x="237.42" y="74.68" width="7.25" height="0.75"/><rect x="237.42" y="110.25" width="7.25" height="0.75"/><rect x="237.42" y="111.7" width="7.25" height="0.75"/></g><g fill="#3f5586"><rect x="237.42" y="90.35" width="7.25" height="1.3"/><rect x="237.42" y="104.35" width="7.25" height="1.3"/><rect x="237.42" y="143.55" width="7.25" height="1.3"/><rect x="237.42" y="150.75" width="7.25" height="1.3"/><rect x="237.42" y="257.15" width="7.25" height="1.3"/><rect x="237.42" y="280.45" width="7.25" height="1.3"/></g>
<g fill="#b2d1ee"><rect x="245.24" y="42.3" width="7.25" height="6.3"/><rect x="245.24" y="50.1" width="7.25" height="2.9"/><rect x="245.24" y="81.2" width="7.25" height="5.3"/><rect x="245.24" y="92.1" width="7.25" height="2.9"/><rect x="245.24" y="106.1" width="7.25" height="3.5"/></g><g fill="#86b4df"><rect x="245.24" y="42.97" width="7.25" height="0.75"/><rect x="245.24" y="45.08" width="7.25" height="0.75"/><rect x="245.24" y="47.17" width="7.25" height="0.75"/><rect x="245.24" y="50.45" width="7.25" height="0.75"/><rect x="245.24" y="51.9" width="7.25" height="0.75"/><rect x="245.24" y="81.71" width="7.25" height="0.75"/><rect x="245.24" y="83.47" width="7.25" height="0.75"/><rect x="245.24" y="85.24" width="7.25" height="0.75"/><rect x="245.24" y="92.45" width="7.25" height="0.75"/><rect x="245.24" y="93.9" width="7.25" height="0.75"/><rect x="245.24" y="106.6" width="7.25" height="0.75"/><rect x="245.24" y="108.35" width="7.25" height="0.75"/></g><g fill="#74a9db"><rect x="245.24" y="56.65" width="7.25" height="1.3"/><rect x="245.24" y="68.75" width="7.25" height="1.3"/><rect x="245.24" y="72.55" width="7.25" height="1.3"/><rect x="245.24" y="76.35" width="7.25" height="1.3"/><rect x="245.24" y="141.65" width="7.25" height="1.3"/><rect x="245.24" y="220.05" width="7.25" height="1.3"/></g>
<g fill="#98a4bf"><rect x="253.14" y="42.3" width="7.25" height="12.6"/><rect x="253.14" y="81.2" width="7.25" height="5.3"/><rect x="253.14" y="92.1" width="7.25" height="2.9"/><rect x="253.14" y="99.1" width="7.25" height="2.9"/><rect x="253.14" y="106.1" width="7.25" height="3.5"/><rect x="253.14" y="234.5" width="7.25" height="2.9"/></g><g fill="#5c6e97"><rect x="253.14" y="42.82" width="7.25" height="0.75"/><rect x="253.14" y="44.62" width="7.25" height="0.75"/><rect x="253.14" y="46.42" width="7.25" height="0.75"/><rect x="253.14" y="48.23" width="7.25" height="0.75"/><rect x="253.14" y="50.03" width="7.25" height="0.75"/><rect x="253.14" y="51.83" width="7.25" height="0.75"/><rect x="253.14" y="53.63" width="7.25" height="0.75"/><rect x="253.14" y="81.71" width="7.25" height="0.75"/><rect x="253.14" y="83.47" width="7.25" height="0.75"/><rect x="253.14" y="85.24" width="7.25" height="0.75"/><rect x="253.14" y="92.45" width="7.25" height="0.75"/><rect x="253.14" y="93.9" width="7.25" height="0.75"/><rect x="253.14" y="99.45" width="7.25" height="0.75"/><rect x="253.14" y="100.9" width="7.25" height="0.75"/><rect x="253.14" y="106.6" width="7.25" height="0.75"/><rect x="253.14" y="108.35" width="7.25" height="0.75"/><rect x="253.14" y="234.85" width="7.25" height="0.75"/><rect x="253.14" y="236.3" width="7.25" height="0.75"/></g><g fill="#3f5586"><rect x="253.14" y="56.65" width="7.25" height="1.3"/><rect x="253.14" y="59.75" width="7.25" height="1.3"/><rect x="253.14" y="68.75" width="7.25" height="1.3"/><rect x="253.14" y="72.55" width="7.25" height="1.3"/><rect x="253.14" y="76.35" width="7.25" height="1.3"/><rect x="253.14" y="88.65" width="7.25" height="1.3"/><rect x="253.14" y="141.65" width="7.25" height="1.3"/><rect x="253.14" y="221.55" width="7.25" height="1.3"/><rect x="253.14" y="251.95" width="7.25" height="1.3"/></g>
<g fill="#d3357f"><rect x="260.97" y="42.5" width="7.25" height="1"/><rect x="260.97" y="120.55" width="7.25" height="1.3"/></g>
<g fill="#b09cb2"><rect x="268.87" y="42.3" width="7.25" height="3.1"/></g><g fill="#6e4b71"><rect x="268.87" y="42.7" width="7.25" height="0.75"/><rect x="268.87" y="44.25" width="7.25" height="0.75"/></g><g fill="#6a3a6a"><rect x="268.87" y="258.85" width="7.25" height="1.3"/></g>
<g fill="#d3357f"><rect x="276.69" y="42.5" width="7.25" height="1"/><rect x="276.69" y="203.95" width="7.25" height="1.3"/><rect x="276.69" y="253.75" width="7.25" height="1.3"/></g>
<g fill="#6a3a6a"><rect x="284.59" y="124.05" width="7.25" height="1.3"/><rect x="284.59" y="148.85" width="7.25" height="1.3"/><rect x="284.59" y="203.95" width="7.25" height="1.3"/></g>
<g fill="#e899c0"><rect x="292.41" y="42.3" width="7.25" height="20.3"/><rect x="292.41" y="67.2" width="7.25" height="3"/><rect x="292.41" y="85.1" width="7.25" height="2.7"/><rect x="292.41" y="106.1" width="7.25" height="2.9"/></g><g fill="#cf4386"><rect x="292.41" y="42.85" width="7.25" height="0.75"/><rect x="292.41" y="44.69" width="7.25" height="0.75"/><rect x="292.41" y="46.54" width="7.25" height="0.75"/><rect x="292.41" y="48.38" width="7.25" height="0.75"/><rect x="292.41" y="50.23" width="7.25" height="0.75"/><rect x="292.41" y="52.08" width="7.25" height="0.75"/><rect x="292.41" y="53.92" width="7.25" height="0.75"/><rect x="292.41" y="55.77" width="7.25" height="0.75"/><rect x="292.41" y="57.61" width="7.25" height="0.75"/><rect x="292.41" y="59.46" width="7.25" height="0.75"/><rect x="292.41" y="61.3" width="7.25" height="0.75"/><rect x="292.41" y="67.58" width="7.25" height="0.75"/><rect x="292.41" y="69.08" width="7.25" height="0.75"/><rect x="292.41" y="86.07" width="7.25" height="0.75"/><rect x="292.41" y="106.45" width="7.25" height="0.75"/><rect x="292.41" y="107.9" width="7.25" height="0.75"/></g><g fill="#d3357f"><rect x="292.41" y="72.55" width="7.25" height="1.3"/><rect x="292.41" y="79.55" width="7.25" height="1.3"/><rect x="292.41" y="90.35" width="7.25" height="1.3"/><rect x="292.41" y="95.65" width="7.25" height="1.3"/><rect x="292.41" y="122.15" width="7.25" height="1.3"/></g>
<g fill="#b09cb2"><rect x="300.31" y="42.3" width="7.25" height="20.3"/><rect x="300.31" y="73" width="7.25" height="4.8"/><rect x="300.31" y="85.1" width="7.25" height="2.7"/><rect x="300.31" y="104.8" width="7.25" height="4.8"/></g><g fill="#6e4b71"><rect x="300.31" y="42.85" width="7.25" height="0.75"/><rect x="300.31" y="44.69" width="7.25" height="0.75"/><rect x="300.31" y="46.54" width="7.25" height="0.75"/><rect x="300.31" y="48.38" width="7.25" height="0.75"/><rect x="300.31" y="50.23" width="7.25" height="0.75"/><rect x="300.31" y="52.08" width="7.25" height="0.75"/><rect x="300.31" y="53.92" width="7.25" height="0.75"/><rect x="300.31" y="55.77" width="7.25" height="0.75"/><rect x="300.31" y="57.61" width="7.25" height="0.75"/><rect x="300.31" y="59.46" width="7.25" height="0.75"/><rect x="300.31" y="61.3" width="7.25" height="0.75"/><rect x="300.31" y="73.42" width="7.25" height="0.75"/><rect x="300.31" y="75.03" width="7.25" height="0.75"/><rect x="300.31" y="76.62" width="7.25" height="0.75"/><rect x="300.31" y="86.07" width="7.25" height="0.75"/><rect x="300.31" y="105.22" width="7.25" height="0.75"/><rect x="300.31" y="106.83" width="7.25" height="0.75"/><rect x="300.31" y="108.43" width="7.25" height="0.75"/></g><g fill="#6a3a6a"><rect x="300.31" y="79.55" width="7.25" height="1.3"/><rect x="300.31" y="90.35" width="7.25" height="1.3"/><rect x="300.31" y="95.65" width="7.25" height="1.3"/><rect x="300.31" y="122.15" width="7.25" height="1.3"/><rect x="300.31" y="196.85" width="7.25" height="1.3"/><rect x="300.31" y="267.85" width="7.25" height="1.3"/><rect x="300.31" y="271.45" width="7.25" height="1.3"/><rect x="300.31" y="285.75" width="7.25" height="1.3"/></g>
<g fill="#e899c0"><rect x="308.13" y="42.3" width="7.25" height="17.7"/><rect x="308.13" y="62.2" width="7.25" height="13.7"/></g><g fill="#cf4386"><rect x="308.13" y="42.81" width="7.25" height="0.75"/><rect x="308.13" y="44.58" width="7.25" height="0.75"/><rect x="308.13" y="46.35" width="7.25" height="0.75"/><rect x="308.13" y="48.12" width="7.25" height="0.75"/><rect x="308.13" y="49.89" width="7.25" height="0.75"/><rect x="308.13" y="51.66" width="7.25" height="0.75"/><rect x="308.13" y="53.43" width="7.25" height="0.75"/><rect x="308.13" y="55.2" width="7.25" height="0.75"/><rect x="308.13" y="56.97" width="7.25" height="0.75"/><rect x="308.13" y="58.74" width="7.25" height="0.75"/><rect x="308.13" y="62.8" width="7.25" height="0.75"/><rect x="308.13" y="64.76" width="7.25" height="0.75"/><rect x="308.13" y="66.72" width="7.25" height="0.75"/><rect x="308.13" y="68.67" width="7.25" height="0.75"/><rect x="308.13" y="70.63" width="7.25" height="0.75"/><rect x="308.13" y="72.59" width="7.25" height="0.75"/><rect x="308.13" y="74.55" width="7.25" height="0.75"/></g><g fill="#d3357f"><rect x="308.13" y="78.25" width="7.25" height="1.3"/><rect x="308.13" y="81.45" width="7.25" height="1.3"/><rect x="308.13" y="84.85" width="7.25" height="1.3"/><rect x="308.13" y="88.65" width="7.25" height="1.3"/><rect x="308.13" y="92.25" width="7.25" height="1.3"/><rect x="308.13" y="95.65" width="7.25" height="1.3"/><rect x="308.13" y="117.05" width="7.25" height="1.3"/><rect x="308.13" y="209.35" width="7.25" height="1.3"/><rect x="308.13" y="225.35" width="7.25" height="1.3"/><rect x="308.13" y="273.15" width="7.25" height="1.3"/></g>
<g fill="#b09cb2"><rect x="316.03" y="42.3" width="7.25" height="33.6"/></g><g fill="#6e4b71"><rect x="316.03" y="42.86" width="7.25" height="0.75"/><rect x="316.03" y="44.72" width="7.25" height="0.75"/><rect x="316.03" y="46.59" width="7.25" height="0.75"/><rect x="316.03" y="48.46" width="7.25" height="0.75"/><rect x="316.03" y="50.33" width="7.25" height="0.75"/><rect x="316.03" y="52.19" width="7.25" height="0.75"/><rect x="316.03" y="54.06" width="7.25" height="0.75"/><rect x="316.03" y="55.92" width="7.25" height="0.75"/><rect x="316.03" y="57.79" width="7.25" height="0.75"/><rect x="316.03" y="59.66" width="7.25" height="0.75"/><rect x="316.03" y="61.53" width="7.25" height="0.75"/><rect x="316.03" y="63.39" width="7.25" height="0.75"/><rect x="316.03" y="65.26" width="7.25" height="0.75"/><rect x="316.03" y="67.12" width="7.25" height="0.75"/><rect x="316.03" y="68.99" width="7.25" height="0.75"/><rect x="316.03" y="70.86" width="7.25" height="0.75"/><rect x="316.03" y="72.73" width="7.25" height="0.75"/><rect x="316.03" y="74.59" width="7.25" height="0.75"/></g><g fill="#6a3a6a"><rect x="316.03" y="88.65" width="7.25" height="1.3"/><rect x="316.03" y="95.65" width="7.25" height="1.3"/><rect x="316.03" y="145.35" width="7.25" height="1.3"/><rect x="316.03" y="184.35" width="7.25" height="1.3"/></g>
<g fill="#e899c0"><rect x="323.85" y="42.3" width="7.25" height="17.7"/><rect x="323.85" y="63.4" width="7.25" height="5.5"/><rect x="323.85" y="75.5" width="7.25" height="3.6"/></g><g fill="#cf4386"><rect x="323.85" y="42.81" width="7.25" height="0.75"/><rect x="323.85" y="44.58" width="7.25" height="0.75"/><rect x="323.85" y="46.35" width="7.25" height="0.75"/><rect x="323.85" y="48.12" width="7.25" height="0.75"/><rect x="323.85" y="49.89" width="7.25" height="0.75"/><rect x="323.85" y="51.66" width="7.25" height="0.75"/><rect x="323.85" y="53.43" width="7.25" height="0.75"/><rect x="323.85" y="55.2" width="7.25" height="0.75"/><rect x="323.85" y="56.97" width="7.25" height="0.75"/><rect x="323.85" y="58.74" width="7.25" height="0.75"/><rect x="323.85" y="63.94" width="7.25" height="0.75"/><rect x="323.85" y="65.78" width="7.25" height="0.75"/><rect x="323.85" y="67.61" width="7.25" height="0.75"/><rect x="323.85" y="76.03" width="7.25" height="0.75"/><rect x="323.85" y="77.83" width="7.25" height="0.75"/></g><g fill="#d3357f"><rect x="323.85" y="81.45" width="7.25" height="1.3"/><rect x="323.85" y="102.65" width="7.25" height="1.3"/><rect x="323.85" y="147.25" width="7.25" height="1.3"/><rect x="323.85" y="173.75" width="7.25" height="1.3"/><rect x="323.85" y="269.55" width="7.25" height="1.3"/><rect x="323.85" y="278.45" width="7.25" height="1.3"/></g>
<g fill="#b09cb2"><rect x="331.75" y="42.3" width="7.25" height="31.7"/><rect x="331.75" y="75.5" width="7.25" height="4.2"/><rect x="331.75" y="82.3" width="7.25" height="2.3"/><rect x="331.75" y="87" width="7.25" height="2.9"/><rect x="331.75" y="111.8" width="7.25" height="2.9"/><rect x="331.75" y="206" width="7.25" height="2.9"/></g><g fill="#6e4b71"><rect x="331.75" y="42.86" width="7.25" height="0.75"/><rect x="331.75" y="44.72" width="7.25" height="0.75"/><rect x="331.75" y="46.59" width="7.25" height="0.75"/><rect x="331.75" y="48.45" width="7.25" height="0.75"/><rect x="331.75" y="50.32" width="7.25" height="0.75"/><rect x="331.75" y="52.18" width="7.25" height="0.75"/><rect x="331.75" y="54.05" width="7.25" height="0.75"/><rect x="331.75" y="55.91" width="7.25" height="0.75"/><rect x="331.75" y="57.77" width="7.25" height="0.75"/><rect x="331.75" y="59.64" width="7.25" height="0.75"/><rect x="331.75" y="61.5" width="7.25" height="0.75"/><rect x="331.75" y="63.37" width="7.25" height="0.75"/><rect x="331.75" y="65.23" width="7.25" height="0.75"/><rect x="331.75" y="67.1" width="7.25" height="0.75"/><rect x="331.75" y="68.96" width="7.25" height="0.75"/><rect x="331.75" y="70.83" width="7.25" height="0.75"/><rect x="331.75" y="72.69" width="7.25" height="0.75"/><rect x="331.75" y="76.17" width="7.25" height="0.75"/><rect x="331.75" y="78.28" width="7.25" height="0.75"/><rect x="331.75" y="83.08" width="7.25" height="0.75"/><rect x="331.75" y="87.35" width="7.25" height="0.75"/><rect x="331.75" y="88.8" width="7.25" height="0.75"/><rect x="331.75" y="112.15" width="7.25" height="0.75"/><rect x="331.75" y="113.6" width="7.25" height="0.75"/><rect x="331.75" y="206.35" width="7.25" height="0.75"/><rect x="331.75" y="207.8" width="7.25" height="0.75"/></g><g fill="#6a3a6a"><rect x="331.75" y="92.25" width="7.25" height="1.3"/><rect x="331.75" y="102.65" width="7.25" height="1.3"/><rect x="331.75" y="132.95" width="7.25" height="1.3"/><rect x="331.75" y="182.65" width="7.25" height="1.3"/><rect x="331.75" y="196.85" width="7.25" height="1.3"/><rect x="331.75" y="241.15" width="7.25" height="1.3"/><rect x="331.75" y="287.65" width="7.25" height="1.3"/></g>
<g fill="#d3357f"><rect x="339.57" y="42.5" width="7.25" height="1"/><rect x="339.57" y="261.05" width="7.25" height="1.3"/></g>
<g fill="#b09cb2"><rect x="347.47" y="42.8" width="7.25" height="2.6"/></g><g fill="#6e4b71"><rect x="347.47" y="43.73" width="7.25" height="0.75"/></g><g fill="#6a3a6a"><rect x="347.47" y="57.65" width="7.25" height="1.3"/></g>
<g fill="#e899c0"><rect x="355.29" y="42.3" width="7.25" height="15.8"/><rect x="355.29" y="125.1" width="7.25" height="1.5"/></g><g fill="#cf4386"><rect x="355.29" y="42.8" width="7.25" height="0.75"/><rect x="355.29" y="44.56" width="7.25" height="0.75"/><rect x="355.29" y="46.31" width="7.25" height="0.75"/><rect x="355.29" y="48.07" width="7.25" height="0.75"/><rect x="355.29" y="49.83" width="7.25" height="0.75"/><rect x="355.29" y="51.58" width="7.25" height="0.75"/><rect x="355.29" y="53.34" width="7.25" height="0.75"/><rect x="355.29" y="55.09" width="7.25" height="0.75"/><rect x="355.29" y="56.85" width="7.25" height="0.75"/><rect x="355.29" y="125.47" width="7.25" height="0.75"/></g><g fill="#d3357f"><rect x="355.29" y="78.55" width="7.25" height="1.3"/><rect x="355.29" y="189.75" width="7.25" height="1.3"/></g>
<g fill="#b09cb2"><rect x="363.19" y="42.3" width="7.25" height="15.8"/><rect x="363.19" y="125.1" width="7.25" height="1.5"/></g><g fill="#6e4b71"><rect x="363.19" y="42.8" width="7.25" height="0.75"/><rect x="363.19" y="44.56" width="7.25" height="0.75"/><rect x="363.19" y="46.31" width="7.25" height="0.75"/><rect x="363.19" y="48.07" width="7.25" height="0.75"/><rect x="363.19" y="49.83" width="7.25" height="0.75"/><rect x="363.19" y="51.58" width="7.25" height="0.75"/><rect x="363.19" y="53.34" width="7.25" height="0.75"/><rect x="363.19" y="55.09" width="7.25" height="0.75"/><rect x="363.19" y="56.85" width="7.25" height="0.75"/><rect x="363.19" y="125.47" width="7.25" height="0.75"/></g><g fill="#6a3a6a"><rect x="363.19" y="78.55" width="7.25" height="1.3"/><rect x="363.19" y="189.75" width="7.25" height="1.3"/><rect x="363.19" y="264.15" width="7.25" height="1.3"/></g>
<g fill="#e899c0"><rect x="371.01" y="42.3" width="7.25" height="3.1"/></g><g fill="#cf4386"><rect x="371.01" y="42.7" width="7.25" height="0.75"/><rect x="371.01" y="44.25" width="7.25" height="0.75"/></g><g fill="#d3357f"><rect x="371.01" y="68.75" width="7.25" height="1.3"/><rect x="371.01" y="95.65" width="7.25" height="1.3"/><rect x="371.01" y="104.35" width="7.25" height="1.3"/><rect x="371.01" y="154.35" width="7.25" height="1.3"/><rect x="371.01" y="214.65" width="7.25" height="1.3"/><rect x="371.01" y="242.95" width="7.25" height="1.3"/></g>
<g fill="#b09cb2"><rect x="378.91" y="43.7" width="7.25" height="3"/></g><g fill="#6e4b71"><rect x="378.91" y="44.07" width="7.25" height="0.75"/><rect x="378.91" y="45.58" width="7.25" height="0.75"/></g><g fill="#6a3a6a"><rect x="378.91" y="49.65" width="7.25" height="1.3"/><rect x="378.91" y="100.75" width="7.25" height="1.3"/><rect x="378.91" y="104.35" width="7.25" height="1.3"/><rect x="378.91" y="154.35" width="7.25" height="1.3"/></g>
<g fill="#cccaea"><rect x="386.73" y="42.3" width="7.25" height="8.8"/><rect x="386.73" y="56.8" width="7.25" height="3"/></g><g fill="#9d99d4"><rect x="386.73" y="42.8" width="7.25" height="0.75"/><rect x="386.73" y="44.56" width="7.25" height="0.75"/><rect x="386.73" y="46.33" width="7.25" height="0.75"/><rect x="386.73" y="48.09" width="7.25" height="0.75"/><rect x="386.73" y="49.84" width="7.25" height="0.75"/><rect x="386.73" y="57.17" width="7.25" height="0.75"/><rect x="386.73" y="58.68" width="7.25" height="0.75"/></g><g fill="#8d89cc"><rect x="386.73" y="61.75" width="7.25" height="1.3"/><rect x="386.73" y="74.15" width="7.25" height="1.3"/><rect x="386.73" y="88.65" width="7.25" height="1.3"/><rect x="386.73" y="100.75" width="7.25" height="1.3"/><rect x="386.73" y="118.75" width="7.25" height="1.3"/><rect x="386.73" y="127.55" width="7.25" height="1.3"/><rect x="386.73" y="138.05" width="7.25" height="1.3"/><rect x="386.73" y="143.55" width="7.25" height="1.3"/><rect x="386.73" y="168.65" width="7.25" height="1.3"/><rect x="386.73" y="171.65" width="7.25" height="1.3"/><rect x="386.73" y="178.85" width="7.25" height="1.3"/></g>
<g fill="#bd9fb5"><rect x="394.63" y="42.3" width="7.25" height="22.2"/><rect x="394.63" y="71.1" width="7.25" height="4.1"/><rect x="394.63" y="137.3" width="7.25" height="3.5"/></g><g fill="#86587e"><rect x="394.63" y="42.85" width="7.25" height="0.75"/><rect x="394.63" y="44.7" width="7.25" height="0.75"/><rect x="394.63" y="46.55" width="7.25" height="0.75"/><rect x="394.63" y="48.4" width="7.25" height="0.75"/><rect x="394.63" y="50.25" width="7.25" height="0.75"/><rect x="394.63" y="52.1" width="7.25" height="0.75"/><rect x="394.63" y="53.95" width="7.25" height="0.75"/><rect x="394.63" y="55.8" width="7.25" height="0.75"/><rect x="394.63" y="57.65" width="7.25" height="0.75"/><rect x="394.63" y="59.5" width="7.25" height="0.75"/><rect x="394.63" y="61.35" width="7.25" height="0.75"/><rect x="394.63" y="63.2" width="7.25" height="0.75"/><rect x="394.63" y="71.75" width="7.25" height="0.75"/><rect x="394.63" y="73.8" width="7.25" height="0.75"/><rect x="394.63" y="137.8" width="7.25" height="0.75"/><rect x="394.63" y="139.55" width="7.25" height="0.75"/></g><g fill="#844a7a"><rect x="394.63" y="67.45" width="7.25" height="1.3"/><rect x="394.63" y="81.45" width="7.25" height="1.3"/><rect x="394.63" y="88.65" width="7.25" height="1.3"/><rect x="394.63" y="100.75" width="7.25" height="1.3"/><rect x="394.63" y="115.15" width="7.25" height="1.3"/><rect x="394.63" y="118.75" width="7.25" height="1.3"/><rect x="394.63" y="127.55" width="7.25" height="1.3"/><rect x="394.63" y="143.55" width="7.25" height="1.3"/><rect x="394.63" y="159.45" width="7.25" height="1.3"/><rect x="394.63" y="163.15" width="7.25" height="1.3"/><rect x="394.63" y="168.65" width="7.25" height="1.3"/><rect x="394.63" y="171.65" width="7.25" height="1.3"/><rect x="394.63" y="178.85" width="7.25" height="1.3"/><rect x="394.63" y="255.45" width="7.25" height="1.3"/></g>
<g fill="#cccaea"><rect x="402.45" y="42.3" width="7.25" height="29.8"/><rect x="402.45" y="81.2" width="7.25" height="6.8"/><rect x="402.45" y="92.1" width="7.25" height="11.8"/><rect x="402.45" y="118.8" width="7.25" height="4.8"/><rect x="402.45" y="151" width="7.25" height="2.6"/><rect x="402.45" y="193.2" width="7.25" height="3.5"/></g><g fill="#9d99d4"><rect x="402.45" y="42.86" width="7.25" height="0.75"/><rect x="402.45" y="44.72" width="7.25" height="0.75"/><rect x="402.45" y="46.58" width="7.25" height="0.75"/><rect x="402.45" y="48.44" width="7.25" height="0.75"/><rect x="402.45" y="50.31" width="7.25" height="0.75"/><rect x="402.45" y="52.17" width="7.25" height="0.75"/><rect x="402.45" y="54.03" width="7.25" height="0.75"/><rect x="402.45" y="55.89" width="7.25" height="0.75"/><rect x="402.45" y="57.76" width="7.25" height="0.75"/><rect x="402.45" y="59.62" width="7.25" height="0.75"/><rect x="402.45" y="61.48" width="7.25" height="0.75"/><rect x="402.45" y="63.34" width="7.25" height="0.75"/><rect x="402.45" y="65.21" width="7.25" height="0.75"/><rect x="402.45" y="67.07" width="7.25" height="0.75"/><rect x="402.45" y="68.93" width="7.25" height="0.75"/><rect x="402.45" y="70.79" width="7.25" height="0.75"/><rect x="402.45" y="81.67" width="7.25" height="0.75"/><rect x="402.45" y="83.38" width="7.25" height="0.75"/><rect x="402.45" y="85.08" width="7.25" height="0.75"/><rect x="402.45" y="86.78" width="7.25" height="0.75"/><rect x="402.45" y="92.71" width="7.25" height="0.75"/><rect x="402.45" y="94.67" width="7.25" height="0.75"/><rect x="402.45" y="96.64" width="7.25" height="0.75"/><rect x="402.45" y="98.61" width="7.25" height="0.75"/><rect x="402.45" y="100.58" width="7.25" height="0.75"/><rect x="402.45" y="102.54" width="7.25" height="0.75"/><rect x="402.45" y="119.22" width="7.25" height="0.75"/><rect x="402.45" y="120.83" width="7.25" height="0.75"/><rect x="402.45" y="122.43" width="7.25" height="0.75"/><rect x="402.45" y="151.93" width="7.25" height="0.75"/><rect x="402.45" y="193.7" width="7.25" height="0.75"/><rect x="402.45" y="195.45" width="7.25" height="0.75"/></g><g fill="#8d89cc"><rect x="402.45" y="75.95" width="7.25" height="1.3"/><rect x="402.45" y="106.25" width="7.25" height="1.3"/><rect x="402.45" y="136.55" width="7.25" height="1.3"/><rect x="402.45" y="141.65" width="7.25" height="1.3"/><rect x="402.45" y="145.35" width="7.25" height="1.3"/><rect x="402.45" y="157.75" width="7.25" height="1.3"/><rect x="402.45" y="187.75" width="7.25" height="1.3"/><rect x="402.45" y="198.65" width="7.25" height="1.3"/><rect x="402.45" y="290.85" width="7.25" height="1.3"/></g>
<g fill="#bd9fb5"><rect x="410.35" y="42.3" width="7.25" height="8.2"/><rect x="410.35" y="55.2" width="7.25" height="16.9"/><rect x="410.35" y="81.2" width="7.25" height="6.8"/><rect x="410.35" y="92.1" width="7.25" height="3.6"/><rect x="410.35" y="118.8" width="7.25" height="4.8"/><rect x="410.35" y="193.2" width="7.25" height="3.5"/></g><g fill="#86587e"><rect x="410.35" y="42.95" width="7.25" height="0.75"/><rect x="410.35" y="45" width="7.25" height="0.75"/><rect x="410.35" y="47.05" width="7.25" height="0.75"/><rect x="410.35" y="49.1" width="7.25" height="0.75"/><rect x="410.35" y="55.76" width="7.25" height="0.75"/><rect x="410.35" y="57.64" width="7.25" height="0.75"/><rect x="410.35" y="59.52" width="7.25" height="0.75"/><rect x="410.35" y="61.4" width="7.25" height="0.75"/><rect x="410.35" y="63.28" width="7.25" height="0.75"/><rect x="410.35" y="65.15" width="7.25" height="0.75"/><rect x="410.35" y="67.03" width="7.25" height="0.75"/><rect x="410.35" y="68.91" width="7.25" height="0.75"/><rect x="410.35" y="70.79" width="7.25" height="0.75"/><rect x="410.35" y="81.67" width="7.25" height="0.75"/><rect x="410.35" y="83.38" width="7.25" height="0.75"/><rect x="410.35" y="85.08" width="7.25" height="0.75"/><rect x="410.35" y="86.78" width="7.25" height="0.75"/><rect x="410.35" y="92.62" width="7.25" height="0.75"/><rect x="410.35" y="94.42" width="7.25" height="0.75"/><rect x="410.35" y="119.22" width="7.25" height="0.75"/><rect x="410.35" y="120.83" width="7.25" height="0.75"/><rect x="410.35" y="122.43" width="7.25" height="0.75"/><rect x="410.35" y="193.7" width="7.25" height="0.75"/><rect x="410.35" y="195.45" width="7.25" height="0.75"/></g><g fill="#844a7a"><rect x="410.35" y="75.95" width="7.25" height="1.3"/><rect x="410.35" y="97.55" width="7.25" height="1.3"/><rect x="410.35" y="99.85" width="7.25" height="1.3"/><rect x="410.35" y="106.25" width="7.25" height="1.3"/><rect x="410.35" y="136.55" width="7.25" height="1.3"/><rect x="410.35" y="145.35" width="7.25" height="1.3"/><rect x="410.35" y="152.45" width="7.25" height="1.3"/><rect x="410.35" y="157.75" width="7.25" height="1.3"/><rect x="410.35" y="187.75" width="7.25" height="1.3"/><rect x="410.35" y="198.65" width="7.25" height="1.3"/></g>
<g fill="#cccaea"><rect x="418.18" y="42.3" width="7.25" height="3.5"/><rect x="418.18" y="56.3" width="7.25" height="3.5"/><rect x="418.18" y="64.2" width="7.25" height="4"/></g><g fill="#9d99d4"><rect x="418.18" y="42.8" width="7.25" height="0.75"/><rect x="418.18" y="44.55" width="7.25" height="0.75"/><rect x="418.18" y="56.8" width="7.25" height="0.75"/><rect x="418.18" y="58.55" width="7.25" height="0.75"/><rect x="418.18" y="64.83" width="7.25" height="0.75"/><rect x="418.18" y="66.83" width="7.25" height="0.75"/></g><g fill="#8d89cc"><rect x="418.18" y="47.45" width="7.25" height="1.3"/><rect x="418.18" y="53.15" width="7.25" height="1.3"/><rect x="418.18" y="61.35" width="7.25" height="1.3"/><rect x="418.18" y="73.15" width="7.25" height="1.3"/></g>
<g fill="#bd9fb5"><rect x="426.07" y="42.3" width="7.25" height="12.6"/><rect x="426.07" y="56.4" width="7.25" height="15.7"/><rect x="426.07" y="81.2" width="7.25" height="3.6"/><rect x="426.07" y="88.8" width="7.25" height="11.9"/></g><g fill="#86587e"><rect x="426.07" y="42.82" width="7.25" height="0.75"/><rect x="426.07" y="44.62" width="7.25" height="0.75"/><rect x="426.07" y="46.42" width="7.25" height="0.75"/><rect x="426.07" y="48.23" width="7.25" height="0.75"/><rect x="426.07" y="50.03" width="7.25" height="0.75"/><rect x="426.07" y="51.83" width="7.25" height="0.75"/><rect x="426.07" y="53.63" width="7.25" height="0.75"/><rect x="426.07" y="57.01" width="7.25" height="0.75"/><rect x="426.07" y="58.97" width="7.25" height="0.75"/><rect x="426.07" y="60.93" width="7.25" height="0.75"/><rect x="426.07" y="62.89" width="7.25" height="0.75"/><rect x="426.07" y="64.86" width="7.25" height="0.75"/><rect x="426.07" y="66.82" width="7.25" height="0.75"/><rect x="426.07" y="68.78" width="7.25" height="0.75"/><rect x="426.07" y="70.74" width="7.25" height="0.75"/><rect x="426.07" y="81.72" width="7.25" height="0.75"/><rect x="426.07" y="83.53" width="7.25" height="0.75"/><rect x="426.07" y="89.42" width="7.25" height="0.75"/><rect x="426.07" y="91.4" width="7.25" height="0.75"/><rect x="426.07" y="93.38" width="7.25" height="0.75"/><rect x="426.07" y="95.37" width="7.25" height="0.75"/><rect x="426.07" y="97.35" width="7.25" height="0.75"/><rect x="426.07" y="99.33" width="7.25" height="0.75"/></g><g fill="#844a7a"><rect x="426.07" y="75.95" width="7.25" height="1.3"/><rect x="426.07" y="102.65" width="7.25" height="1.3"/><rect x="426.07" y="106.25" width="7.25" height="1.3"/><rect x="426.07" y="111.55" width="7.25" height="1.3"/><rect x="426.07" y="131.05" width="7.25" height="1.3"/><rect x="426.07" y="134.65" width="7.25" height="1.3"/><rect x="426.07" y="173.75" width="7.25" height="1.3"/><rect x="426.07" y="246.75" width="7.25" height="1.3"/></g>
<g fill="#cccaea"><rect x="433.9" y="42.3" width="7.25" height="13.3"/><rect x="433.9" y="109.8" width="7.25" height="3"/></g><g fill="#9d99d4"><rect x="433.9" y="42.88" width="7.25" height="0.75"/><rect x="433.9" y="44.77" width="7.25" height="0.75"/><rect x="433.9" y="46.67" width="7.25" height="0.75"/><rect x="433.9" y="48.58" width="7.25" height="0.75"/><rect x="433.9" y="50.48" width="7.25" height="0.75"/><rect x="433.9" y="52.38" width="7.25" height="0.75"/><rect x="433.9" y="54.27" width="7.25" height="0.75"/><rect x="433.9" y="110.17" width="7.25" height="0.75"/><rect x="433.9" y="111.67" width="7.25" height="0.75"/></g><g fill="#8d89cc"><rect x="433.9" y="75.95" width="7.25" height="1.3"/><rect x="433.9" y="79.25" width="7.25" height="1.3"/><rect x="433.9" y="115.15" width="7.25" height="1.3"/><rect x="433.9" y="118.75" width="7.25" height="1.3"/></g>
<g fill="#bd9fb5"><rect x="441.8" y="42.3" width="7.25" height="19"/><rect x="441.8" y="63.4" width="7.25" height="5.5"/><rect x="441.8" y="81.2" width="7.25" height="3.3"/></g><g fill="#86587e"><rect x="441.8" y="42.88" width="7.25" height="0.75"/><rect x="441.8" y="44.77" width="7.25" height="0.75"/><rect x="441.8" y="46.67" width="7.25" height="0.75"/><rect x="441.8" y="48.58" width="7.25" height="0.75"/><rect x="441.8" y="50.48" width="7.25" height="0.75"/><rect x="441.8" y="52.38" width="7.25" height="0.75"/><rect x="441.8" y="54.28" width="7.25" height="0.75"/><rect x="441.8" y="56.18" width="7.25" height="0.75"/><rect x="441.8" y="58.08" width="7.25" height="0.75"/><rect x="441.8" y="59.98" width="7.25" height="0.75"/><rect x="441.8" y="63.94" width="7.25" height="0.75"/><rect x="441.8" y="65.78" width="7.25" height="0.75"/><rect x="441.8" y="67.61" width="7.25" height="0.75"/><rect x="441.8" y="81.65" width="7.25" height="0.75"/><rect x="441.8" y="83.3" width="7.25" height="0.75"/></g><g fill="#844a7a"><rect x="441.8" y="79.55" width="7.25" height="1.3"/><rect x="441.8" y="111.55" width="7.25" height="1.3"/><rect x="441.8" y="166.65" width="7.25" height="1.3"/><rect x="441.8" y="207.35" width="7.25" height="1.3"/><rect x="441.8" y="219.75" width="7.25" height="1.3"/></g>
<g fill="#e59a2a"><rect x="449.62" y="42.5" width="7.25" height="1"/><rect x="449.62" y="147.25" width="7.25" height="1.3"/><rect x="449.62" y="170.35" width="7.25" height="1.3"/><rect x="449.62" y="223.35" width="7.25" height="1.3"/></g>

<g fill="#f2c98c"><rect x="465.34" y="42.3" width="7.25" height="19"/><rect x="465.34" y="74.2" width="7.25" height="3.6"/><rect x="465.34" y="154" width="7.25" height="3.4"/></g><g fill="#e3a040"><rect x="465.34" y="42.88" width="7.25" height="0.75"/><rect x="465.34" y="44.77" width="7.25" height="0.75"/><rect x="465.34" y="46.67" width="7.25" height="0.75"/><rect x="465.34" y="48.58" width="7.25" height="0.75"/><rect x="465.34" y="50.48" width="7.25" height="0.75"/><rect x="465.34" y="52.38" width="7.25" height="0.75"/><rect x="465.34" y="54.28" width="7.25" height="0.75"/><rect x="465.34" y="56.18" width="7.25" height="0.75"/><rect x="465.34" y="58.08" width="7.25" height="0.75"/><rect x="465.34" y="59.98" width="7.25" height="0.75"/><rect x="465.34" y="74.72" width="7.25" height="0.75"/><rect x="465.34" y="76.53" width="7.25" height="0.75"/><rect x="465.34" y="154.47" width="7.25" height="0.75"/><rect x="465.34" y="156.17" width="7.25" height="0.75"/></g><g fill="#e59a2a"><rect x="465.34" y="63.65" width="7.25" height="1.3"/><rect x="465.34" y="68.65" width="7.25" height="1.3"/><rect x="465.34" y="79.45" width="7.25" height="1.3"/><rect x="465.34" y="88.65" width="7.25" height="1.3"/><rect x="465.34" y="92.25" width="7.25" height="1.3"/><rect x="465.34" y="102.65" width="7.25" height="1.3"/><rect x="465.34" y="124.05" width="7.25" height="1.3"/><rect x="465.34" y="127.55" width="7.25" height="1.3"/><rect x="465.34" y="170.35" width="7.25" height="1.3"/><rect x="465.34" y="262.55" width="7.25" height="1.3"/><rect x="465.34" y="289.15" width="7.25" height="1.3"/><rect x="465.34" y="292.65" width="7.25" height="1.3"/></g>
<g fill="#dbbd9c"><rect x="473.24" y="42.3" width="7.25" height="15.8"/><rect x="473.24" y="60.2" width="7.25" height="4.6"/><rect x="473.24" y="74.2" width="7.25" height="3.6"/></g><g fill="#b88a5e"><rect x="473.24" y="42.8" width="7.25" height="0.75"/><rect x="473.24" y="44.56" width="7.25" height="0.75"/><rect x="473.24" y="46.31" width="7.25" height="0.75"/><rect x="473.24" y="48.07" width="7.25" height="0.75"/><rect x="473.24" y="49.83" width="7.25" height="0.75"/><rect x="473.24" y="51.58" width="7.25" height="0.75"/><rect x="473.24" y="53.34" width="7.25" height="0.75"/><rect x="473.24" y="55.09" width="7.25" height="0.75"/><rect x="473.24" y="56.85" width="7.25" height="0.75"/><rect x="473.24" y="60.97" width="7.25" height="0.75"/><rect x="473.24" y="63.27" width="7.25" height="0.75"/><rect x="473.24" y="74.72" width="7.25" height="0.75"/><rect x="473.24" y="76.53" width="7.25" height="0.75"/></g><g fill="#b27a3c"><rect x="473.24" y="79.45" width="7.25" height="1.3"/><rect x="473.24" y="86.75" width="7.25" height="1.3"/><rect x="473.24" y="92.25" width="7.25" height="1.3"/><rect x="473.24" y="102.65" width="7.25" height="1.3"/><rect x="473.24" y="124.05" width="7.25" height="1.3"/><rect x="473.24" y="127.55" width="7.25" height="1.3"/><rect x="473.24" y="156.15" width="7.25" height="1.3"/></g>
<g fill="#e59a2a"><rect x="481.06" y="42.5" width="7.25" height="1"/><rect x="481.06" y="97.55" width="7.25" height="1.3"/><rect x="481.06" y="129.45" width="7.25" height="1.3"/></g>
<g fill="#dbbd9c"><rect x="488.96" y="43.1" width="7.25" height="2.9"/></g><g fill="#b88a5e"><rect x="488.96" y="43.45" width="7.25" height="0.75"/><rect x="488.96" y="44.9" width="7.25" height="0.75"/></g><g fill="#b27a3c"><rect x="488.96" y="97.55" width="7.25" height="1.3"/><rect x="488.96" y="157.75" width="7.25" height="1.3"/><rect x="488.96" y="168.65" width="7.25" height="1.3"/></g>
<g fill="#e59a2a"><rect x="496.78" y="42.5" width="7.25" height="1"/><rect x="496.78" y="70.85" width="7.25" height="1.3"/><rect x="496.78" y="104.35" width="7.25" height="1.3"/><rect x="496.78" y="109.75" width="7.25" height="1.3"/><rect x="496.78" y="163.15" width="7.25" height="1.3"/><rect x="496.78" y="180.55" width="7.25" height="1.3"/><rect x="496.78" y="209.35" width="7.25" height="1.3"/></g>
<g fill="#b27a3c"><rect x="504.68" y="42.5" width="7.25" height="1"/><rect x="504.68" y="104.35" width="7.25" height="1.3"/><rect x="504.68" y="109.75" width="7.25" height="1.3"/><rect x="504.68" y="180.55" width="7.25" height="1.3"/></g>
<rect x="39.82" y="42.3" width="1" height="251.9" fill="#6e6e6e"/><rect x="55.54" y="42.3" width="1" height="251.9" fill="#6e6e6e"/><rect x="71.26" y="42.3" width="1" height="251.9" fill="#6e6e6e"/><rect x="86.98" y="42.3" width="1" height="251.9" fill="#6e6e6e"/><rect x="102.71" y="42.3" width="1" height="251.9" fill="#6e6e6e"/><rect x="118.43" y="42.3" width="1" height="251.9" fill="#6e6e6e"/><rect x="134.15" y="42.3" width="1" height="251.9" fill="#6e6e6e"/><rect x="149.87" y="42.3" width="1" height="251.9" fill="#6e6e6e"/><rect x="165.59" y="42.3" width="1" height="251.9" fill="#6e6e6e"/><rect x="181.31" y="42.3" width="1" height="251.9" fill="#6e6e6e"/><rect x="197.03" y="42.3" width="1" height="251.9" fill="#6e6e6e"/><rect x="212.75" y="42.3" width="1" height="251.9" fill="#6e6e6e"/><rect x="228.47" y="42.3" width="1" height="251.9" fill="#6e6e6e"/><rect x="244.19" y="42.3" width="1" height="251.9" fill="#6e6e6e"/><rect x="275.64" y="42.3" width="1" height="251.9" fill="#6e6e6e"/><rect x="291.36" y="42.3" width="1" height="251.9" fill="#6e6e6e"/><rect x="307.08" y="42.3" width="1" height="251.9" fill="#6e6e6e"/><rect x="322.8" y="42.3" width="1" height="251.9" fill="#6e6e6e"/><rect x="338.52" y="42.3" width="1" height="251.9" fill="#6e6e6e"/><rect x="354.24" y="42.3" width="1" height="251.9" fill="#6e6e6e"/><rect x="369.96" y="42.3" width="1" height="251.9" fill="#6e6e6e"/><rect x="401.4" y="42.3" width="1" height="251.9" fill="#6e6e6e"/><rect x="417.12" y="42.3" width="1" height="251.9" fill="#6e6e6e"/><rect x="432.85" y="42.3" width="1" height="251.9" fill="#6e6e6e"/><rect x="464.29" y="42.3" width="1" height="251.9" fill="#6e6e6e"/><rect x="480.01" y="42.3" width="1" height="251.9" fill="#6e6e6e"/><rect x="495.73" y="42.3" width="1" height="251.9" fill="#6e6e6e"/><rect x="24" y="41.8" width="1.3" height="252.4" fill="#707070"/><rect x="259.81" y="41.8" width="1.2" height="252.4" fill="#2e2e2e"/><rect x="385.58" y="41.8" width="1.2" height="252.4" fill="#2e2e2e"/><rect x="448.47" y="41.8" width="1.2" height="252.4" fill="#2e2e2e"/><rect x="511.35" y="41.8" width="1.2" height="252.4" fill="#2e2e2e"/>
<rect x="24.3" y="18.1" width="487.8" height="21.8" fill="#e8e5e5"/><rect x="24.3" y="39.9" width="487.8" height="1.3" fill="#f6f4f4"/><rect x="24" y="17.6" width="488.4" height="1.1" fill="#333"/><rect x="24" y="30.1" width="488.4" height="1.1" fill="#333"/><rect x="24" y="41.2" width="488.4" height="1.5" fill="#2a2a2a"/><rect x="24" y="17.6" width="1.1" height="25" fill="#333"/><rect x="511.4" y="17.6" width="1.1" height="25" fill="#333"/><rect x="385.8" y="17.6" width="1.1" height="25" fill="#333"/><rect x="259.9" y="30.1" width="1.1" height="12.5" fill="#333"/><rect x="448.4" y="30.1" width="1.1" height="12.5" fill="#333"/>
<rect x="24.5" y="294.5" width="487.5" height="4.6" fill="#f4f1f1"/><rect x="24" y="293.9" width="488.4" height="0.9" fill="#222"/><rect x="24" y="298.8" width="488.4" height="0.9" fill="#222"/><rect x="24.15" y="293.9" width="0.9" height="5.8" fill="#222"/><rect x="39.87" y="293.9" width="0.9" height="5.8" fill="#222"/><rect x="55.59" y="293.9" width="0.9" height="5.8" fill="#222"/><rect x="71.31" y="293.9" width="0.9" height="5.8" fill="#222"/><rect x="87.03" y="293.9" width="0.9" height="5.8" fill="#222"/><rect x="102.76" y="293.9" width="0.9" height="5.8" fill="#222"/><rect x="118.48" y="293.9" width="0.9" height="5.8" fill="#222"/><rect x="134.2" y="293.9" width="0.9" height="5.8" fill="#222"/><rect x="149.92" y="293.9" width="0.9" height="5.8" fill="#222"/><rect x="165.64" y="293.9" width="0.9" height="5.8" fill="#222"/><rect x="181.36" y="293.9" width="0.9" height="5.8" fill="#222"/><rect x="197.08" y="293.9" width="0.9" height="5.8" fill="#222"/><rect x="212.8" y="293.9" width="0.9" height="5.8" fill="#222"/><rect x="228.52" y="293.9" width="0.9" height="5.8" fill="#222"/><rect x="244.24" y="293.9" width="0.9" height="5.8" fill="#222"/><rect x="259.97" y="293.9" width="0.9" height="5.8" fill="#222"/><rect x="275.69" y="293.9" width="0.9" height="5.8" fill="#222"/><rect x="291.41" y="293.9" width="0.9" height="5.8" fill="#222"/><rect x="307.13" y="293.9" width="0.9" height="5.8" fill="#222"/><rect x="322.85" y="293.9" width="0.9" height="5.8" fill="#222"/><rect x="338.57" y="293.9" width="0.9" height="5.8" fill="#222"/><rect x="354.29" y="293.9" width="0.9" height="5.8" fill="#222"/><rect x="370.01" y="293.9" width="0.9" height="5.8" fill="#222"/><rect x="385.73" y="293.9" width="0.9" height="5.8" fill="#222"/><rect x="401.45" y="293.9" width="0.9" height="5.8" fill="#222"/><rect x="417.18" y="293.9" width="0.9" height="5.8" fill="#222"/><rect x="432.9" y="293.9" width="0.9" height="5.8" fill="#222"/><rect x="448.62" y="293.9" width="0.9" height="5.8" fill="#222"/><rect x="464.34" y="293.9" width="0.9" height="5.8" fill="#222"/><rect x="480.06" y="293.9" width="0.9" height="5.8" fill="#222"/><rect x="495.78" y="293.9" width="0.9" height="5.8" fill="#222"/><rect x="511.5" y="293.9" width="0.9" height="5.8" fill="#222"/><text x="29.86" y="298.6" font-size="4.2" textLength="5.2" lengthAdjust="spacingAndGlyphs" fill="#1a1a1a" stroke="#1a1a1a" stroke-width="0.08">P1</text><text x="45.58" y="298.6" font-size="4.2" textLength="5.2" lengthAdjust="spacingAndGlyphs" fill="#1a1a1a" stroke="#1a1a1a" stroke-width="0.08">P2</text><text x="61.3" y="298.6" font-size="4.2" textLength="5.2" lengthAdjust="spacingAndGlyphs" fill="#1a1a1a" stroke="#1a1a1a" stroke-width="0.08">P3</text><text x="77.02" y="298.6" font-size="4.2" textLength="5.2" lengthAdjust="spacingAndGlyphs" fill="#1a1a1a" stroke="#1a1a1a" stroke-width="0.08">P4</text><text x="92.74" y="298.6" font-size="4.2" textLength="5.2" lengthAdjust="spacingAndGlyphs" fill="#1a1a1a" stroke="#1a1a1a" stroke-width="0.08">P5</text><text x="108.47" y="298.6" font-size="4.2" textLength="5.2" lengthAdjust="spacingAndGlyphs" fill="#1a1a1a" stroke="#1a1a1a" stroke-width="0.08">P6</text><text x="124.19" y="298.6" font-size="4.2" textLength="5.2" lengthAdjust="spacingAndGlyphs" fill="#1a1a1a" stroke="#1a1a1a" stroke-width="0.08">P7</text><text x="139.91" y="298.6" font-size="4.2" textLength="5.2" lengthAdjust="spacingAndGlyphs" fill="#1a1a1a" stroke="#1a1a1a" stroke-width="0.08">P8</text><text x="155.63" y="298.6" font-size="4.2" textLength="5.2" lengthAdjust="spacingAndGlyphs" fill="#1a1a1a" stroke="#1a1a1a" stroke-width="0.08">P9</text><text x="169.45" y="298.6" font-size="4.2" textLength="9.0" lengthAdjust="spacingAndGlyphs" fill="#1a1a1a" stroke="#1a1a1a" stroke-width="0.08">P10</text><text x="185.17" y="298.6" font-size="4.2" textLength="9.0" lengthAdjust="spacingAndGlyphs" fill="#1a1a1a" stroke="#1a1a1a" stroke-width="0.08">P11</text><text x="200.89" y="298.6" font-size="4.2" textLength="9.0" lengthAdjust="spacingAndGlyphs" fill="#1a1a1a" stroke="#1a1a1a" stroke-width="0.08">P12</text><text x="216.61" y="298.6" font-size="4.2" textLength="9.0" lengthAdjust="spacingAndGlyphs" fill="#1a1a1a" stroke="#1a1a1a" stroke-width="0.08">P13</text><text x="232.33" y="298.6" font-size="4.2" textLength="9.0" lengthAdjust="spacingAndGlyphs" fill="#1a1a1a" stroke="#1a1a1a" stroke-width="0.08">P14</text><text x="248.05" y="298.6" font-size="4.2" textLength="9.0" lengthAdjust="spacingAndGlyphs" fill="#1a1a1a" stroke="#1a1a1a" stroke-width="0.08">P15</text><text x="263.78" y="298.6" font-size="4.2" textLength="9.0" lengthAdjust="spacingAndGlyphs" fill="#1a1a1a" stroke="#1a1a1a" stroke-width="0.08">P16</text><text x="279.5" y="298.6" font-size="4.2" textLength="9.0" lengthAdjust="spacingAndGlyphs" fill="#1a1a1a" stroke="#1a1a1a" stroke-width="0.08">P17</text><text x="295.22" y="298.6" font-size="4.2" textLength="9.0" lengthAdjust="spacingAndGlyphs" fill="#1a1a1a" stroke="#1a1a1a" stroke-width="0.08">P18</text><text x="310.94" y="298.6" font-size="4.2" textLength="9.0" lengthAdjust="spacingAndGlyphs" fill="#1a1a1a" stroke="#1a1a1a" stroke-width="0.08">P19</text><text x="326.66" y="298.6" font-size="4.2" textLength="9.0" lengthAdjust="spacingAndGlyphs" fill="#1a1a1a" stroke="#1a1a1a" stroke-width="0.08">P20</text><text x="342.38" y="298.6" font-size="4.2" textLength="9.0" lengthAdjust="spacingAndGlyphs" fill="#1a1a1a" stroke="#1a1a1a" stroke-width="0.08">P21</text><text x="358.1" y="298.6" font-size="4.2" textLength="9.0" lengthAdjust="spacingAndGlyphs" fill="#1a1a1a" stroke="#1a1a1a" stroke-width="0.08">P22</text><text x="373.82" y="298.6" font-size="4.2" textLength="9.0" lengthAdjust="spacingAndGlyphs" fill="#1a1a1a" stroke="#1a1a1a" stroke-width="0.08">P23</text><text x="389.54" y="298.6" font-size="4.2" textLength="9.0" lengthAdjust="spacingAndGlyphs" fill="#1a1a1a" stroke="#1a1a1a" stroke-width="0.08">P24</text><text x="405.26" y="298.6" font-size="4.2" textLength="9.0" lengthAdjust="spacingAndGlyphs" fill="#1a1a1a" stroke="#1a1a1a" stroke-width="0.08">P25</text><text x="420.99" y="298.6" font-size="4.2" textLength="9.0" lengthAdjust="spacingAndGlyphs" fill="#1a1a1a" stroke="#1a1a1a" stroke-width="0.08">P26</text><text x="436.71" y="298.6" font-size="4.2" textLength="9.0" lengthAdjust="spacingAndGlyphs" fill="#1a1a1a" stroke="#1a1a1a" stroke-width="0.08">P27</text><text x="452.43" y="298.6" font-size="4.2" textLength="9.0" lengthAdjust="spacingAndGlyphs" fill="#1a1a1a" stroke="#1a1a1a" stroke-width="0.08">P28</text><text x="468.15" y="298.6" font-size="4.2" textLength="9.0" lengthAdjust="spacingAndGlyphs" fill="#1a1a1a" stroke="#1a1a1a" stroke-width="0.08">P29</text><text x="483.87" y="298.6" font-size="4.2" textLength="9.0" lengthAdjust="spacingAndGlyphs" fill="#1a1a1a" stroke="#1a1a1a" stroke-width="0.08">P30</text><text x="499.59" y="298.6" font-size="4.2" textLength="9.0" lengthAdjust="spacingAndGlyphs" fill="#1a1a1a" stroke="#1a1a1a" stroke-width="0.08">P31</text>
<g font-family="Liberation Sans, sans-serif"><text transform="translate(24.6 304.0) rotate(45)" font-size="3.9" textLength="8.0" lengthAdjust="spacingAndGlyphs" fill="#3c3c3c">pre  T</text><text transform="translate(32.6 304.0) rotate(45)" font-size="3.9" textLength="8.8" lengthAdjust="spacingAndGlyphs" fill="#3c3c3c">D(R)o</text><text transform="translate(40.32 304.0) rotate(45)" font-size="3.9" textLength="8.0" lengthAdjust="spacingAndGlyphs" fill="#3c3c3c">pre  T</text><text transform="translate(48.32 304.0) rotate(45)" font-size="3.9" textLength="8.8" lengthAdjust="spacingAndGlyphs" fill="#3c3c3c">D(R)o</text><text transform="translate(56.04 304.0) rotate(45)" font-size="3.9" textLength="8.0" lengthAdjust="spacingAndGlyphs" fill="#3c3c3c">pre  T</text><text transform="translate(64.04 304.0) rotate(45)" font-size="3.9" textLength="8.8" lengthAdjust="spacingAndGlyphs" fill="#3c3c3c">D(R)o</text><text transform="translate(71.76 304.0) rotate(45)" font-size="3.9" textLength="8.0" lengthAdjust="spacingAndGlyphs" fill="#3c3c3c">pre  T</text><text transform="translate(79.76 304.0) rotate(45)" font-size="3.9" textLength="8.8" lengthAdjust="spacingAndGlyphs" fill="#3c3c3c">D(R)o</text><text transform="translate(87.48 304.0) rotate(45)" font-size="3.9" textLength="8.0" lengthAdjust="spacingAndGlyphs" fill="#3c3c3c">pre  T</text><text transform="translate(95.48 304.0) rotate(45)" font-size="3.9" textLength="8.8" lengthAdjust="spacingAndGlyphs" fill="#3c3c3c">D(R)o</text><text transform="translate(103.21 304.0) rotate(45)" font-size="3.9" textLength="8.0" lengthAdjust="spacingAndGlyphs" fill="#3c3c3c">pre  T</text><text transform="translate(111.21 304.0) rotate(45)" font-size="3.9" textLength="8.8" lengthAdjust="spacingAndGlyphs" fill="#3c3c3c">D(R)o</text><text transform="translate(118.93 304.0) rotate(45)" font-size="3.9" textLength="8.0" lengthAdjust="spacingAndGlyphs" fill="#3c3c3c">pre  T</text><text transform="translate(126.93 304.0) rotate(45)" font-size="3.9" textLength="8.8" lengthAdjust="spacingAndGlyphs" fill="#3c3c3c">D(R)o</text><text transform="translate(134.65 304.0) rotate(45)" font-size="3.9" textLength="8.0" lengthAdjust="spacingAndGlyphs" fill="#3c3c3c">pre  T</text><text transform="translate(142.65 304.0) rotate(45)" font-size="3.9" textLength="8.8" lengthAdjust="spacingAndGlyphs" fill="#3c3c3c">D(R)o</text><text transform="translate(150.37 304.0) rotate(45)" font-size="3.9" textLength="8.0" lengthAdjust="spacingAndGlyphs" fill="#3c3c3c">pre  T</text><text transform="translate(158.37 304.0) rotate(45)" font-size="3.9" textLength="8.8" lengthAdjust="spacingAndGlyphs" fill="#3c3c3c">D(R)o</text><text transform="translate(166.09 304.0) rotate(45)" font-size="3.9" textLength="8.0" lengthAdjust="spacingAndGlyphs" fill="#3c3c3c">pre  T</text><text transform="translate(174.09 304.0) rotate(45)" font-size="3.9" textLength="8.8" lengthAdjust="spacingAndGlyphs" fill="#3c3c3c">D(R)o</text><text transform="translate(181.81 304.0) rotate(45)" font-size="3.9" textLength="8.0" lengthAdjust="spacingAndGlyphs" fill="#3c3c3c">pre  T</text><text transform="translate(189.81 304.0) rotate(45)" font-size="3.9" textLength="8.8" lengthAdjust="spacingAndGlyphs" fill="#3c3c3c">D(R)o</text><text transform="translate(197.53 304.0) rotate(45)" font-size="3.9" textLength="8.0" lengthAdjust="spacingAndGlyphs" fill="#3c3c3c">pre  T</text><text transform="translate(205.53 304.0) rotate(45)" font-size="3.9" textLength="8.8" lengthAdjust="spacingAndGlyphs" fill="#3c3c3c">D(R)o</text><text transform="translate(213.25 304.0) rotate(45)" font-size="3.9" textLength="8.0" lengthAdjust="spacingAndGlyphs" fill="#3c3c3c">pre  T</text><text transform="translate(221.25 304.0) rotate(45)" font-size="3.9" textLength="8.8" lengthAdjust="spacingAndGlyphs" fill="#3c3c3c">D(R)o</text><text transform="translate(228.97 304.0) rotate(45)" font-size="3.9" textLength="8.0" lengthAdjust="spacingAndGlyphs" fill="#3c3c3c">pre  T</text><text transform="translate(236.97 304.0) rotate(45)" font-size="3.9" textLength="8.8" lengthAdjust="spacingAndGlyphs" fill="#3c3c3c">D(R)o</text><text transform="translate(244.69 304.0) rotate(45)" font-size="3.9" textLength="8.0" lengthAdjust="spacingAndGlyphs" fill="#3c3c3c">pre  T</text><text transform="translate(252.69 304.0) rotate(45)" font-size="3.9" textLength="8.8" lengthAdjust="spacingAndGlyphs" fill="#3c3c3c">D(R)o</text><text transform="translate(260.42 304.0) rotate(45)" font-size="3.9" textLength="8.0" lengthAdjust="spacingAndGlyphs" fill="#3c3c3c">pre  T</text><text transform="translate(268.42 304.0) rotate(45)" font-size="3.9" textLength="8.8" lengthAdjust="spacingAndGlyphs" fill="#3c3c3c">D(R)o</text><text transform="translate(276.14 304.0) rotate(45)" font-size="3.9" textLength="8.0" lengthAdjust="spacingAndGlyphs" fill="#3c3c3c">pre  T</text><text transform="translate(284.14 304.0) rotate(45)" font-size="3.9" textLength="8.8" lengthAdjust="spacingAndGlyphs" fill="#3c3c3c">D(R)o</text><text transform="translate(291.86 304.0) rotate(45)" font-size="3.9" textLength="8.0" lengthAdjust="spacingAndGlyphs" fill="#3c3c3c">pre  T</text><text transform="translate(299.86 304.0) rotate(45)" font-size="3.9" textLength="8.8" lengthAdjust="spacingAndGlyphs" fill="#3c3c3c">D(R)o</text><text transform="translate(307.58 304.0) rotate(45)" font-size="3.9" textLength="8.0" lengthAdjust="spacingAndGlyphs" fill="#3c3c3c">pre  T</text><text transform="translate(315.58 304.0) rotate(45)" font-size="3.9" textLength="8.8" lengthAdjust="spacingAndGlyphs" fill="#3c3c3c">D(R)o</text><text transform="translate(323.3 304.0) rotate(45)" font-size="3.9" textLength="8.0" lengthAdjust="spacingAndGlyphs" fill="#3c3c3c">pre  T</text><text transform="translate(331.3 304.0) rotate(45)" font-size="3.9" textLength="8.8" lengthAdjust="spacingAndGlyphs" fill="#3c3c3c">D(R)o</text><text transform="translate(339.02 304.0) rotate(45)" font-size="3.9" textLength="8.0" lengthAdjust="spacingAndGlyphs" fill="#3c3c3c">pre  T</text><text transform="translate(347.02 304.0) rotate(45)" font-size="3.9" textLength="8.8" lengthAdjust="spacingAndGlyphs" fill="#3c3c3c">D(R)o</text><text transform="translate(354.74 304.0) rotate(45)" font-size="3.9" textLength="8.0" lengthAdjust="spacingAndGlyphs" fill="#3c3c3c">pre  T</text><text transform="translate(362.74 304.0) rotate(45)" font-size="3.9" textLength="8.8" lengthAdjust="spacingAndGlyphs" fill="#3c3c3c">D(R)o</text><text transform="translate(370.46 304.0) rotate(45)" font-size="3.9" textLength="8.0" lengthAdjust="spacingAndGlyphs" fill="#3c3c3c">pre  T</text><text transform="translate(378.46 304.0) rotate(45)" font-size="3.9" textLength="8.8" lengthAdjust="spacingAndGlyphs" fill="#3c3c3c">D(R)o</text><text transform="translate(386.18 304.0) rotate(45)" font-size="3.9" textLength="8.0" lengthAdjust="spacingAndGlyphs" fill="#3c3c3c">pre  T</text><text transform="translate(394.18 304.0) rotate(45)" font-size="3.9" textLength="8.8" lengthAdjust="spacingAndGlyphs" fill="#3c3c3c">D(R)o</text><text transform="translate(401.9 304.0) rotate(45)" font-size="3.9" textLength="8.0" lengthAdjust="spacingAndGlyphs" fill="#3c3c3c">pre  T</text><text transform="translate(409.9 304.0) rotate(45)" font-size="3.9" textLength="8.8" lengthAdjust="spacingAndGlyphs" fill="#3c3c3c">D(R)o</text><text transform="translate(417.62 304.0) rotate(45)" font-size="3.9" textLength="8.0" lengthAdjust="spacingAndGlyphs" fill="#3c3c3c">pre  T</text><text transform="translate(425.62 304.0) rotate(45)" font-size="3.9" textLength="8.8" lengthAdjust="spacingAndGlyphs" fill="#3c3c3c">D(R)o</text><text transform="translate(433.35 304.0) rotate(45)" font-size="3.9" textLength="8.0" lengthAdjust="spacingAndGlyphs" fill="#3c3c3c">pre  T</text><text transform="translate(441.35 304.0) rotate(45)" font-size="3.9" textLength="8.8" lengthAdjust="spacingAndGlyphs" fill="#3c3c3c">D(R)o</text><text transform="translate(449.07 304.0) rotate(45)" font-size="3.9" textLength="8.0" lengthAdjust="spacingAndGlyphs" fill="#3c3c3c">pre  T</text><text transform="translate(457.07 304.0) rotate(45)" font-size="3.9" textLength="8.8" lengthAdjust="spacingAndGlyphs" fill="#3c3c3c">D(R)o</text><text transform="translate(464.79 304.0) rotate(45)" font-size="3.9" textLength="8.0" lengthAdjust="spacingAndGlyphs" fill="#3c3c3c">pre  T</text><text transform="translate(472.79 304.0) rotate(45)" font-size="3.9" textLength="8.8" lengthAdjust="spacingAndGlyphs" fill="#3c3c3c">D(R)o</text><text transform="translate(480.51 304.0) rotate(45)" font-size="3.9" textLength="8.0" lengthAdjust="spacingAndGlyphs" fill="#3c3c3c">pre  T</text><text transform="translate(488.51 304.0) rotate(45)" font-size="3.9" textLength="8.8" lengthAdjust="spacingAndGlyphs" fill="#3c3c3c">D(R)o</text><text transform="translate(496.23 304.0) rotate(45)" font-size="3.9" textLength="8.0" lengthAdjust="spacingAndGlyphs" fill="#3c3c3c">pre  T</text><text transform="translate(504.23 304.0) rotate(45)" font-size="3.9" textLength="8.8" lengthAdjust="spacingAndGlyphs" fill="#3c3c3c">D(R)o</text></g>
<rect x="19.3" y="42" width="3.2" height="252" fill="#d2d2d2"/>
<rect x="0" y="0" width="520" height="1.2" fill="#4a4a4a"/><rect x="0.2" y="0" width="1.5" height="330" fill="#4a4a4a"/><rect x="518.5" y="0" width="1.5" height="330" fill="#2a2a2a"/><rect x="0" y="328.6" width="520" height="1.4" fill="#2a2a2a"/>
<g font-family="Liberation Sans, sans-serif" stroke="#2a2a2a" stroke-width="0.12">
<text x="141" y="13.3" font-size="7.4" textLength="233" lengthAdjust="spacingAndGlyphs" fill="#222">CMV epitope enrichment by donor CMV status and CMV reactivation status</text>
<text x="164.4" y="27" font-size="7.4" textLength="78.6" lengthAdjust="spacingAndGlyphs" fill="#222">Seropositive Donors (D+)</text>
<text x="409.2" y="26.8" font-size="7.4" textLength="78.8" lengthAdjust="spacingAndGlyphs" fill="#222">Seronegative Donors (D-)</text>
<text x="124.8" y="38.9" font-size="7.4" textLength="37.7" lengthAdjust="spacingAndGlyphs" fill="#222">Reactivators</text>
<text x="293.5" y="38.9" font-size="7.4" textLength="51.9" lengthAdjust="spacingAndGlyphs" fill="#222">Non-reactivators</text>
<text x="397.9" y="38.8" font-size="7.4" textLength="38.3" lengthAdjust="spacingAndGlyphs" fill="#222">Reactivators</text>
<text x="454.9" y="38.8" font-size="7.4" textLength="51.7" lengthAdjust="spacingAndGlyphs" fill="#222">Non-reactivators</text>
<text x="238.8" y="320.8" font-size="7.4" textLength="52.7" lengthAdjust="spacingAndGlyphs" fill="#222">Individual profile</text>
<text transform="translate(13.6 190) rotate(-90)" font-size="7.4" textLength="43.6" lengthAdjust="spacingAndGlyphs" fill="#222">CMV epitopes</text>
</g>
</svg>
</body></html>
